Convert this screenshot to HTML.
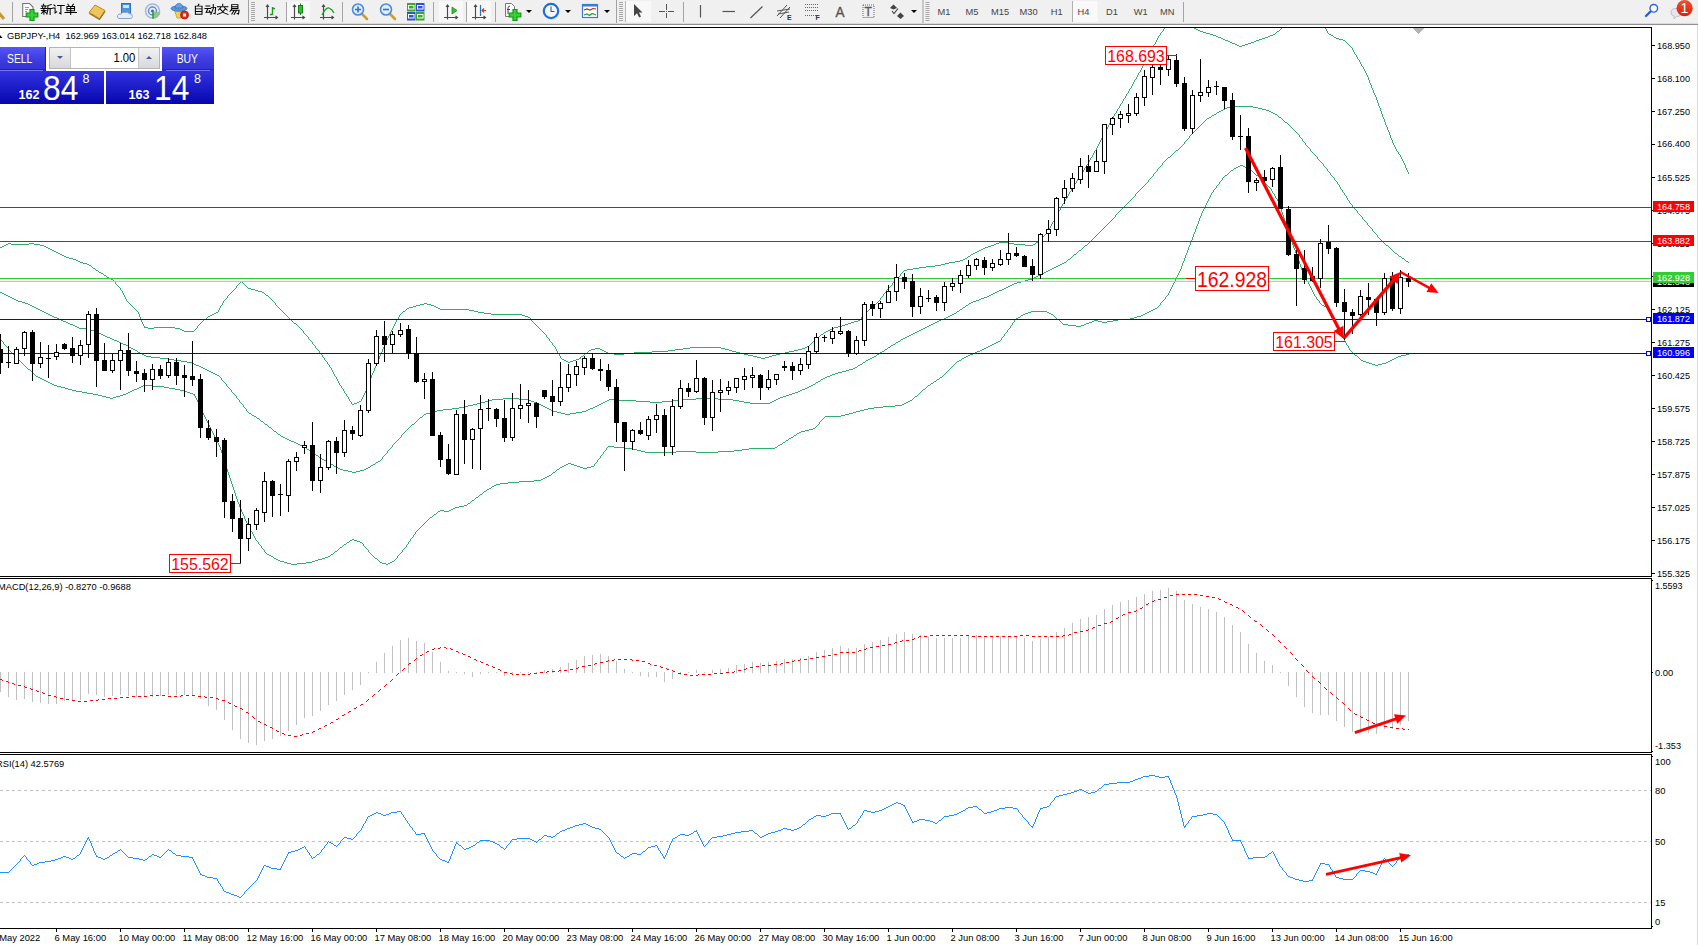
<!DOCTYPE html>
<html><head><meta charset="utf-8"><title>GBPJPY H4</title>
<style>
html,body{margin:0;padding:0;background:#fff}
body{width:1698px;height:945px;position:relative;overflow:hidden;font-family:"Liberation Sans",sans-serif}

#tb{position:absolute;left:0;top:0;width:1698px;height:25px;background:#f0f0f0}
#tb .sh1{position:absolute;left:0;top:23px;width:1698px;height:1px;background:#dadada}
#tb .sh2{position:absolute;left:0;top:24px;width:1698px;height:1px;background:#909090}
#oc{position:absolute;left:0;top:47px;width:214px;height:57px;font-family:"Liberation Sans",sans-serif}
#oc div{position:absolute;box-sizing:border-box}
#oc .bt{top:0;height:24px;background:linear-gradient(#5656f8,#4040e2 45%,#3030d2);color:#fff;font-size:12px;line-height:25px;text-align:center}
#oc .pr{top:24px;height:33px;background:linear-gradient(#3232de,#1c1cc8 50%,#0606ae);color:#fff}
#oc .sm{font-weight:bold;font-size:12.6px;line-height:12px;bottom:3px}
#oc .bg{font-size:34.5px;line-height:34px;bottom:-0.5px;transform-origin:0 50%;transform:scaleX(.92)}
#oc .su{font-size:12.5px;line-height:12px;top:1.5px}

</style></head><body>
<svg width="1698" height="945" viewBox="0 0 1698 945" style="position:absolute;left:0;top:0" font-family="Liberation Sans, sans-serif">
<defs><clipPath id="cm"><rect x="0" y="28" width="1651" height="548"/></clipPath><clipPath id="cd"><rect x="0" y="579" width="1651" height="173"/></clipPath><clipPath id="cr"><rect x="0" y="755" width="1651" height="173"/></clipPath></defs>
<g shape-rendering="crispEdges" fill="#000">
<rect x="0" y="27" width="1652" height="1"/>
<rect x="1651" y="27" width="1" height="550"/>
<rect x="0" y="576" width="1652" height="1"/>
<rect x="0" y="578" width="1652" height="1"/>
<rect x="1651" y="578" width="1" height="175"/>
<rect x="0" y="752" width="1652" height="1"/>
<rect x="0" y="754" width="1652" height="1"/>
<rect x="1651" y="754" width="1" height="175"/>
<rect x="0" y="928" width="1652" height="1"/>
</g>
<rect x="1697" y="25" width="1" height="920" fill="#dcdcdc" shape-rendering="crispEdges"/>
<g clip-path="url(#cm)" shape-rendering="crispEdges">
<path transform="translate(0,0.5)" d="M1164 28h1M1194 28h2M1281 28h1M1325 28h1M1163 29h1M1196 29h2M1280 29h1M1326 29h1M1163 30h1M1198 30h2M1279 30h1M1326 30h1M1162 31h1M1200 31h3M1277 31h2M1327 31h1M1161 32h1M1203 32h3M1276 32h1M1327 32h1M1160 33h1M1206 33h4M1275 33h1M1328 33h1M1160 34h1M1210 34h3M1273 34h2M1329 34h2M1159 35h1M1213 35h3M1270 35h3M1331 35h2M1158 36h1M1216 36h2M1268 36h2M1333 36h1M1158 37h1M1218 37h3M1265 37h3M1334 37h2M1157 38h1M1221 38h2M1262 38h3M1336 38h3M1157 39h1M1223 39h2M1259 39h3M1339 39h4M1156 40h1M1225 40h3M1256 40h3M1343 40h2M1156 41h1M1228 41h2M1254 41h2M1345 41h1M1155 42h1M1230 42h2M1251 42h3M1346 42h1M1155 43h1M1232 43h3M1248 43h3M1347 43h1M1154 44h1M1235 44h2M1245 44h3M1348 44h1M1153 45h1M1237 45h2M1242 45h3M1349 45h1M1153 46h1M1239 46h3M1350 46h1M1152 47h1M1351 47h1M1152 48h1M1352 48h1M1151 49h1M1352 49h1M1151 50h1M1353 50h1M1150 51h1M1353 51h1M1150 52h1M1354 52h1M1149 53h1M1354 53h1M1149 54h1M1355 54h1M1148 55h1M1356 55h1M1148 56h1M1356 56h1M1147 57h1M1357 57h1M1147 58h1M1357 58h1M1146 59h1M1358 59h1M1146 60h1M1359 60h1M1145 61h1M1359 61h1M1145 62h1M1360 62h1M1144 63h1M1360 63h1M1143 64h1M1361 64h1M1143 65h1M1361 65h1M1142 66h1M1362 66h1M1142 67h1M1363 67h1M1141 68h1M1363 68h1M1141 69h1M1364 69h1M1140 70h1M1364 70h1M1140 71h1M1365 71h1M1139 72h1M1365 72h1M1138 73h1M1366 73h1M1138 74h1M1366 74h1M1137 75h1M1367 75h1M1137 76h1M1367 76h1M1136 77h1M1368 77h1M1136 78h1M1368 78h1M1135 79h1M1368 79h1M1134 80h1M1369 80h1M1134 81h1M1369 81h1M1133 82h1M1369 82h1M1133 83h1M1370 83h1M1132 84h1M1370 84h1M1132 85h1M1371 85h1M1131 86h1M1371 86h1M1131 87h1M1371 87h1M1130 88h1M1372 88h1M1129 89h1M1372 89h1M1129 90h1M1373 90h1M1128 91h1M1373 91h1M1128 92h1M1373 92h1M1127 93h1M1374 93h1M1126 94h1M1374 94h1M1126 95h1M1375 95h1M1125 96h1M1375 96h1M1125 97h1M1376 97h1M1124 98h1M1376 98h1M1123 99h1M1376 99h1M1123 100h1M1377 100h1M1122 101h1M1377 101h1M1122 102h1M1377 102h1M1121 103h1M1378 103h1M1120 104h1M1378 104h1M1120 105h1M1378 105h1M1119 106h1M1379 106h1M1119 107h1M1379 107h1M1118 108h1M1380 108h1M1117 109h1M1380 109h1M1117 110h1M1380 110h1M1116 111h1M1381 111h1M1116 112h1M1381 112h1M1115 113h1M1381 113h1M1114 114h1M1382 114h1M1114 115h1M1382 115h1M1113 116h1M1382 116h1M1113 117h1M1383 117h1M1112 118h1M1383 118h1M1111 119h1M1384 119h1M1111 120h1M1384 120h1M1110 121h1M1384 121h1M1110 122h1M1385 122h1M1109 123h1M1385 123h1M1109 124h1M1385 124h1M1108 125h1M1386 125h1M1108 126h1M1386 126h1M1107 127h1M1387 127h1M1107 128h1M1387 128h1M1106 129h1M1387 129h1M1106 130h1M1388 130h1M1105 131h1M1388 131h1M1105 132h1M1389 132h1M1104 133h1M1389 133h1M1103 134h1M1389 134h1M1103 135h1M1390 135h1M1102 136h1M1390 136h1M1102 137h1M1390 137h1M1101 138h1M1391 138h1M1101 139h1M1391 139h1M1100 140h1M1392 140h1M1100 141h1M1392 141h1M1099 142h1M1392 142h1M1099 143h1M1393 143h1M1098 144h1M1393 144h1M1098 145h1M1394 145h1M1097 146h1M1394 146h1M1097 147h1M1395 147h1M1096 148h1M1395 148h1M1096 149h1M1396 149h1M1095 150h1M1396 150h1M1094 151h1M1397 151h1M1094 152h1M1398 152h1M1093 153h1M1398 153h1M1093 154h1M1399 154h1M1092 155h1M1400 155h1M1092 156h1M1400 156h1M1091 157h1M1401 157h1M1090 158h1M1401 158h1M1090 159h1M1402 159h1M1089 160h1M1402 160h1M1089 161h1M1403 161h1M1088 162h1M1403 162h1M1088 163h1M1404 163h1M1087 164h1M1404 164h1M1086 165h1M1405 165h1M1086 166h1M1405 166h1M1085 167h1M1405 167h1M1084 168h1M1406 168h1M1084 169h1M1406 169h1M1083 170h1M1407 170h1M1083 171h1M1407 171h1M1082 172h1M1408 172h1M1081 173h1M1408 173h1M1081 174h1M1080 175h1M1079 176h1M1079 177h1M1078 178h1M1077 179h1M1077 180h1M1076 181h1M1076 182h1M1075 183h1M1074 184h1M1074 185h1M1073 186h1M1072 187h1M1072 188h1M1071 189h1M1071 190h1M1070 191h1M1069 192h1M1069 193h1M1068 194h1M1068 195h1M1067 196h1M1067 197h1M1066 198h1M1065 199h1M1065 200h1M1064 201h1M1064 202h1M1063 203h1M1062 204h1M1062 205h1M1061 206h1M1061 207h1M1060 208h1M1060 209h1M1059 210h1M1058 211h1M1058 212h1M1057 213h1M1057 214h1M1056 215h1M1056 216h1M1055 217h1M1055 218h1M1054 219h1M1054 220h1M1053 221h1M1052 222h1M1052 223h1M1051 224h1M1051 225h1M1050 226h1M1050 227h1M1049 228h1M1049 229h1M1048 230h1M1048 231h1M1047 232h1M1046 233h1M1045 234h1M1044 235h1M1043 236h1M1042 237h1M1041 238h1M1040 239h1M1039 240h1M1038 241h1M999 242h9M1036 242h2M8 243h3M29 243h5M996 243h3M1008 243h6M1035 243h1M6 244h2M11 244h18M34 244h6M994 244h2M1014 244h11M1033 244h2M4 245h2M40 245h4M991 245h3M1025 245h8M2 246h2M44 246h2M988 246h3M0 247h2M46 247h2M985 247h3M48 248h2M983 248h2M50 249h2M981 249h2M52 250h2M979 250h2M54 251h2M977 251h2M56 252h2M975 252h2M58 253h2M973 253h2M60 254h2M971 254h2M62 255h2M970 255h1M64 256h2M968 256h2M66 257h3M967 257h1M69 258h4M965 258h2M73 259h3M963 259h2M76 260h2M960 260h3M78 261h2M955 261h5M80 262h3M949 262h6M83 263h4M945 263h4M87 264h2M941 264h4M89 265h2M935 265h6M91 266h1M926 266h9M92 267h1M919 267h7M93 268h2M913 268h6M95 269h1M907 269h6M96 270h2M904 270h3M98 271h1M903 271h1M99 272h2M902 272h1M101 273h2M901 273h1M103 274h1M900 274h1M104 275h2M900 275h1M106 276h1M899 276h1M107 277h2M898 277h1M109 278h2M897 278h1M111 279h2M896 279h1M113 280h1M895 280h1M114 281h1M241 281h1M894 281h1M115 282h1M240 282h1M242 282h1M893 282h1M115 283h1M239 283h1M243 283h1M892 283h1M116 284h1M238 284h1M244 284h1M892 284h1M117 285h1M237 285h1M245 285h1M891 285h1M118 286h1M236 286h1M246 286h1M890 286h1M119 287h1M236 287h1M247 287h1M889 287h1M120 288h1M235 288h1M248 288h3M888 288h1M120 289h1M234 289h1M251 289h4M887 289h1M121 290h1M233 290h1M255 290h3M886 290h1M122 291h1M232 291h1M258 291h4M886 291h1M122 292h1M231 292h1M262 292h2M885 292h1M123 293h1M230 293h1M264 293h1M884 293h1M123 294h1M229 294h1M265 294h1M883 294h1M124 295h1M228 295h1M266 295h2M883 295h1M124 296h1M227 296h1M268 296h1M882 296h1M125 297h1M227 297h1M269 297h1M881 297h1M125 298h1M226 298h1M270 298h1M880 298h1M126 299h1M225 299h1M271 299h1M880 299h1M126 300h1M224 300h1M272 300h1M879 300h1M127 301h1M223 301h1M273 301h1M878 301h1M128 302h1M223 302h1M274 302h1M877 302h1M129 303h1M222 303h1M275 303h1M424 303h3M876 303h1M130 304h1M222 304h1M275 304h1M420 304h4M427 304h4M875 304h1M131 305h1M221 305h1M276 305h1M416 305h4M431 305h3M874 305h1M132 306h1M220 306h1M277 306h1M413 306h3M434 306h2M873 306h1M133 307h1M220 307h1M278 307h1M409 307h4M436 307h2M872 307h1M134 308h1M219 308h1M279 308h1M407 308h2M438 308h2M870 308h2M135 309h1M219 309h1M280 309h1M406 309h1M440 309h29M869 309h1M136 310h1M218 310h1M281 310h1M405 310h1M469 310h5M868 310h1M137 311h1M218 311h1M282 311h1M403 311h2M474 311h4M867 311h1M138 312h1M216 312h2M283 312h1M402 312h1M478 312h6M866 312h1M138 313h1M214 313h2M284 313h1M401 313h1M484 313h7M865 313h1M139 314h1M212 314h2M285 314h1M400 314h1M491 314h31M864 314h1M139 315h1M210 315h2M286 315h1M399 315h1M522 315h3M863 315h1M139 316h1M208 316h2M287 316h1M399 316h1M525 316h3M862 316h1M140 317h1M207 317h1M288 317h1M398 317h1M528 317h2M861 317h1M140 318h1M206 318h1M289 318h1M398 318h1M530 318h1M861 318h1M141 319h1M204 319h2M290 319h1M397 319h1M531 319h1M860 319h1M141 320h1M203 320h1M291 320h1M396 320h1M531 320h1M858 320h2M141 321h1M202 321h1M292 321h1M396 321h1M532 321h1M854 321h4M142 322h1M201 322h1M293 322h1M395 322h1M533 322h1M851 322h3M142 323h1M200 323h1M294 323h2M395 323h1M534 323h1M848 323h3M143 324h1M199 324h1M296 324h1M394 324h1M535 324h1M845 324h3M143 325h1M198 325h1M297 325h1M394 325h1M536 325h1M842 325h3M144 326h1M197 326h1M298 326h1M393 326h1M537 326h1M838 326h4M144 327h4M154 327h21M197 327h1M299 327h1M393 327h1M538 327h1M834 327h4M148 328h6M175 328h5M196 328h1M300 328h1M392 328h1M539 328h1M832 328h2M180 329h2M195 329h1M301 329h1M392 329h1M540 329h1M830 329h2M182 330h2M194 330h1M302 330h1M391 330h1M541 330h1M828 330h2M184 331h10M303 331h1M391 331h1M542 331h1M826 331h2M303 332h1M390 332h1M543 332h1M824 332h2M304 333h1M390 333h1M544 333h1M823 333h1M305 334h1M389 334h1M545 334h1M821 334h2M306 335h1M389 335h1M546 335h1M820 335h1M307 336h1M388 336h1M546 336h1M819 336h1M308 337h1M388 337h1M547 337h1M817 337h2M308 338h1M387 338h1M548 338h1M816 338h1M309 339h1M387 339h1M549 339h1M815 339h1M310 340h1M386 340h1M549 340h1M814 340h1M311 341h1M386 341h1M550 341h1M813 341h1M312 342h1M386 342h1M551 342h1M812 342h1M312 343h1M385 343h1M552 343h1M811 343h1M313 344h1M385 344h1M552 344h1M810 344h1M314 345h1M384 345h1M553 345h1M809 345h1M315 346h1M384 346h1M554 346h1M807 346h2M315 347h1M383 347h1M555 347h1M690 347h31M805 347h2M316 348h1M383 348h1M555 348h1M595 348h5M683 348h7M721 348h4M802 348h3M317 349h1M382 349h1M556 349h1M591 349h4M600 349h2M675 349h8M725 349h4M798 349h4M318 350h1M382 350h1M556 350h1M589 350h2M602 350h2M668 350h7M729 350h3M794 350h4M319 351h1M382 351h1M557 351h1M588 351h1M604 351h2M652 351h16M732 351h4M789 351h5M319 352h1M381 352h1M557 352h1M587 352h1M606 352h2M634 352h18M736 352h4M785 352h4M320 353h1M381 353h1M558 353h1M585 353h2M608 353h6M624 353h10M740 353h4M780 353h5M321 354h1M380 354h1M559 354h1M584 354h1M614 354h10M744 354h4M776 354h4M322 355h1M380 355h1M559 355h1M583 355h1M748 355h5M772 355h4M322 356h1M379 356h1M560 356h1M581 356h2M753 356h4M769 356h3M323 357h1M379 357h1M560 357h1M580 357h1M757 357h4M765 357h4M324 358h1M379 358h1M561 358h1M579 358h2M761 358h4M324 359h1M378 359h1M562 359h2M576 359h3M325 360h1M378 360h1M564 360h2M573 360h3M326 361h1M377 361h1M566 361h2M570 361h3M327 362h1M377 362h1M568 362h2M327 363h1M376 363h1M328 364h1M376 364h1M329 365h1M376 365h1M329 366h1M375 366h1M330 367h1M375 367h1M331 368h1M374 368h1M331 369h1M374 369h1M332 370h1M374 370h1M332 371h1M373 371h1M333 372h1M373 372h1M333 373h1M372 373h1M334 374h1M372 374h1M334 375h1M371 375h1M335 376h1M371 376h1M336 377h1M371 377h1M336 378h1M370 378h1M337 379h1M370 379h1M337 380h1M370 380h1M338 381h1M369 381h1M338 382h1M369 382h1M339 383h1M368 383h1M339 384h1M368 384h1M340 385h1M368 385h1M341 386h1M367 386h1M341 387h1M367 387h1M342 388h1M367 388h1M343 389h1M366 389h1M343 390h1M366 390h1M344 391h1M365 391h1M344 392h1M365 392h1M345 393h1M364 393h1M346 394h1M364 394h1M346 395h1M363 395h1M347 396h1M363 396h1M348 397h1M362 397h1M348 398h1M362 398h1M349 399h1M361 399h1M349 400h1M361 400h1M350 401h1M359 401h2M351 402h1M357 402h2M351 403h1M354 403h3M352 404h2" fill="none" stroke="#2eb06c" stroke-width="1"/>
<path transform="translate(0,0.5)" d="M1233 106h20M1227 107h6M1253 107h5M1225 108h2M1258 108h4M1223 109h2M1262 109h4M1221 110h2M1266 110h3M1219 111h2M1269 111h2M1217 112h2M1271 112h2M1216 113h1M1273 113h2M1214 114h2M1275 114h2M1212 115h2M1277 115h1M1211 116h1M1278 116h1M1209 117h2M1279 117h2M1207 118h2M1281 118h1M1206 119h1M1282 119h1M1205 120h1M1283 120h1M1204 121h1M1284 121h1M1203 122h1M1285 122h2M1202 123h1M1287 123h1M1201 124h1M1288 124h1M1200 125h1M1289 125h1M1199 126h1M1290 126h1M1198 127h1M1291 127h1M1197 128h1M1292 128h1M1196 129h1M1293 129h1M1195 130h1M1294 130h1M1194 131h1M1295 131h1M1193 132h1M1296 132h1M1192 133h1M1297 133h1M1191 134h1M1298 134h1M1190 135h1M1299 135h1M1189 136h1M1299 136h1M1189 137h1M1300 137h1M1188 138h1M1301 138h1M1187 139h1M1302 139h1M1186 140h1M1302 140h1M1185 141h1M1303 141h1M1184 142h1M1304 142h1M1184 143h1M1305 143h1M1183 144h1M1305 144h1M1182 145h1M1306 145h1M1181 146h1M1307 146h1M1180 147h1M1308 147h1M1179 148h1M1309 148h1M1178 149h1M1310 149h1M1176 150h2M1310 150h1M1175 151h1M1311 151h1M1174 152h1M1312 152h1M1173 153h1M1313 153h1M1172 154h1M1314 154h1M1171 155h1M1315 155h1M1170 156h1M1316 156h1M1168 157h2M1317 157h1M1167 158h1M1317 158h1M1166 159h1M1318 159h1M1165 160h1M1319 160h1M1164 161h1M1320 161h1M1163 162h1M1321 162h1M1162 163h1M1322 163h1M1162 164h1M1323 164h1M1161 165h1M1323 165h1M1160 166h1M1324 166h1M1159 167h1M1325 167h1M1158 168h1M1326 168h1M1157 169h1M1327 169h1M1157 170h1M1327 170h1M1156 171h1M1328 171h1M1155 172h1M1329 172h1M1154 173h1M1330 173h1M1153 174h1M1330 174h1M1153 175h1M1331 175h1M1152 176h1M1332 176h1M1151 177h1M1333 177h1M1150 178h1M1334 178h1M1149 179h1M1334 179h1M1148 180h1M1335 180h1M1148 181h1M1336 181h1M1147 182h1M1337 182h1M1146 183h1M1337 183h1M1145 184h1M1338 184h1M1144 185h1M1339 185h1M1143 186h1M1339 186h1M1142 187h1M1340 187h1M1141 188h1M1340 188h1M1140 189h1M1341 189h1M1139 190h1M1342 190h1M1138 191h1M1342 191h1M1137 192h1M1343 192h1M1136 193h1M1344 193h1M1135 194h1M1344 194h1M1135 195h1M1345 195h1M1134 196h1M1346 196h1M1133 197h1M1346 197h1M1132 198h1M1347 198h1M1131 199h1M1347 199h1M1130 200h1M1348 200h1M1129 201h1M1349 201h1M1128 202h1M1349 202h1M1127 203h1M1350 203h1M1126 204h1M1351 204h1M1125 205h1M1352 205h1M1124 206h1M1352 206h1M1123 207h1M1353 207h1M1122 208h1M1354 208h1M1121 209h1M1355 209h1M1120 210h1M1356 210h1M1119 211h1M1357 211h1M1118 212h1M1357 212h1M1117 213h1M1358 213h1M1116 214h1M1359 214h1M1115 215h1M1360 215h1M1115 216h1M1361 216h1M1114 217h1M1362 217h1M1113 218h1M1362 218h1M1112 219h1M1363 219h1M1111 220h1M1364 220h1M1110 221h1M1365 221h1M1109 222h1M1366 222h1M1108 223h1M1367 223h1M1107 224h1M1367 224h1M1106 225h1M1368 225h1M1105 226h1M1369 226h1M1104 227h1M1370 227h1M1103 228h1M1371 228h1M1102 229h1M1372 229h1M1101 230h1M1372 230h1M1100 231h1M1373 231h1M1099 232h1M1374 232h1M1098 233h1M1375 233h1M1097 234h1M1376 234h1M1096 235h1M1377 235h1M1095 236h1M1377 236h1M1094 237h1M1378 237h1M1093 238h1M1379 238h1M1092 239h1M1380 239h1M1091 240h1M1381 240h1M1090 241h1M1382 241h1M1089 242h1M1383 242h1M1088 243h1M1384 243h1M1087 244h1M1385 244h1M1085 245h2M1386 245h2M1084 246h1M1388 246h1M1083 247h1M1389 247h1M1082 248h1M1390 248h1M1081 249h1M1391 249h1M1079 250h2M1392 250h1M1078 251h1M1393 251h1M1077 252h1M1394 252h1M1076 253h1M1395 253h2M1074 254h2M1397 254h1M1073 255h1M1398 255h1M1072 256h1M1399 256h2M1071 257h1M1401 257h1M1070 258h1M1402 258h2M1068 259h2M1404 259h1M1067 260h1M1405 260h1M1066 261h1M1406 261h2M1064 262h2M1408 262h1M1062 263h2M1060 264h2M1058 265h2M1056 266h2M1054 267h2M1052 268h2M1050 269h2M1048 270h2M1046 271h2M1044 272h2M1042 273h2M1040 274h2M1038 275h2M1036 276h2M1034 277h2M1032 278h2M1028 279h4M1025 280h3M1021 281h4M1017 282h4M1014 283h3M1012 284h2M1010 285h2M1008 286h2M1006 287h2M1004 288h2M1002 289h2M999 290h3M997 291h2M0 292h2M995 292h2M2 293h2M993 293h2M4 294h2M991 294h2M6 295h2M989 295h2M8 296h2M987 296h2M10 297h2M984 297h3M12 298h2M981 298h3M14 299h2M979 299h2M16 300h2M976 300h3M18 301h4M973 301h3M22 302h3M971 302h2M25 303h3M969 303h2M28 304h2M968 304h1M30 305h2M966 305h2M32 306h2M965 306h1M34 307h2M963 307h2M36 308h2M962 308h1M38 309h2M960 309h2M40 310h2M959 310h1M42 311h2M957 311h2M44 312h2M956 312h1M46 313h2M954 313h2M48 314h2M952 314h2M50 315h2M950 315h2M52 316h2M948 316h2M54 317h3M946 317h2M57 318h2M944 318h2M59 319h2M941 319h3M61 320h2M939 320h2M63 321h3M937 321h2M66 322h2M935 322h2M68 323h2M933 323h2M70 324h3M931 324h2M73 325h2M929 325h2M75 326h2M927 326h2M77 327h2M925 327h2M79 328h10M923 328h2M89 329h2M921 329h2M91 330h3M919 330h2M94 331h2M917 331h2M96 332h2M915 332h2M98 333h3M913 333h2M101 334h2M911 334h2M103 335h2M909 335h2M105 336h2M907 336h2M107 337h3M905 337h2M110 338h2M903 338h2M112 339h2M901 339h2M114 340h3M900 340h1M117 341h2M898 341h2M119 342h2M896 342h2M121 343h2M895 343h1M123 344h3M893 344h2M126 345h2M891 345h2M128 346h1M890 346h1M129 347h2M888 347h2M131 348h2M887 348h1M133 349h2M885 349h2M135 350h2M884 350h1M137 351h1M882 351h2M138 352h2M880 352h2M140 353h2M879 353h1M142 354h2M877 354h2M144 355h2M876 355h1M146 356h5M874 356h2M151 357h9M872 357h2M160 358h8M870 358h2M168 359h6M868 359h2M174 360h7M866 360h2M181 361h6M865 361h1M187 362h5M863 362h2M192 363h2M862 363h1M194 364h2M860 364h2M196 365h3M858 365h2M199 366h2M857 366h1M201 367h2M855 367h2M203 368h2M853 368h2M205 369h2M849 369h4M207 370h2M846 370h3M209 371h2M842 371h4M211 372h2M838 372h4M213 373h2M835 373h3M215 374h2M832 374h3M217 375h2M830 375h2M219 376h1M827 376h3M220 377h1M825 377h2M221 378h1M823 378h2M221 379h1M821 379h2M222 380h1M820 380h1M223 381h1M818 381h2M224 382h1M816 382h2M225 383h1M815 383h1M226 384h1M813 384h2M226 385h1M811 385h2M227 386h1M809 386h2M228 387h1M807 387h2M229 388h1M805 388h2M230 389h1M802 389h3M231 390h1M800 390h2M231 391h1M798 391h2M232 392h1M795 392h3M233 393h1M792 393h3M234 394h1M789 394h3M235 395h1M786 395h3M236 396h1M783 396h3M236 397h1M780 397h3M237 398h1M503 398h16M696 398h22M778 398h2M238 399h1M492 399h11M519 399h9M609 399h10M682 399h14M718 399h15M776 399h2M239 400h1M488 400h4M528 400h3M607 400h2M619 400h17M672 400h10M733 400h6M774 400h2M239 401h1M485 401h3M531 401h3M605 401h2M636 401h14M662 401h10M739 401h5M772 401h2M240 402h1M481 402h4M534 402h2M603 402h2M650 402h12M744 402h6M770 402h2M241 403h1M477 403h4M536 403h3M601 403h2M750 403h20M242 404h1M473 404h4M539 404h2M599 404h2M243 405h1M468 405h5M541 405h2M597 405h2M243 406h1M464 406h4M543 406h2M595 406h2M244 407h1M459 407h5M545 407h2M593 407h2M245 408h1M452 408h7M547 408h2M590 408h3M246 409h1M443 409h9M549 409h2M588 409h2M246 410h1M437 410h6M551 410h2M586 410h2M247 411h1M433 411h4M553 411h4M582 411h4M248 412h1M430 412h3M557 412h4M576 412h6M249 413h2M426 413h4M561 413h4M570 413h6M251 414h1M424 414h2M565 414h5M252 415h2M423 415h1M254 416h2M422 416h1M256 417h1M420 417h2M257 418h2M419 418h1M259 419h1M418 419h1M260 420h1M417 420h1M261 421h2M416 421h1M263 422h1M415 422h1M264 423h1M414 423h1M265 424h2M412 424h2M267 425h1M411 425h1M268 426h1M410 426h1M269 427h2M409 427h1M271 428h1M408 428h1M272 429h1M407 429h1M273 430h1M406 430h1M274 431h2M405 431h1M276 432h1M404 432h1M277 433h1M403 433h1M278 434h2M402 434h1M280 435h1M401 435h1M281 436h2M401 436h1M283 437h2M400 437h1M285 438h2M399 438h1M287 439h2M398 439h1M289 440h2M397 440h1M291 441h3M396 441h1M294 442h2M395 442h1M296 443h2M394 443h1M298 444h2M393 444h1M300 445h2M392 445h1M302 446h2M392 446h1M304 447h2M391 447h1M306 448h1M390 448h1M307 449h2M389 449h1M309 450h1M388 450h1M310 451h2M387 451h1M312 452h1M387 452h1M313 453h2M386 453h1M315 454h1M385 454h1M316 455h2M384 455h1M318 456h1M383 456h1M319 457h2M382 457h1M321 458h1M382 458h1M322 459h2M381 459h1M324 460h2M380 460h1M326 461h2M378 461h2M328 462h1M376 462h2M329 463h2M375 463h1M331 464h2M373 464h2M333 465h1M371 465h2M334 466h2M370 466h1M336 467h2M368 467h2M338 468h2M366 468h2M340 469h3M364 469h2M343 470h5M360 470h4M348 471h4M356 471h4M352 472h4" fill="none" stroke="#2eb06c" stroke-width="1"/>
<path transform="translate(0,0.5)" d="M1240 165h3M1238 166h2M1243 166h2M1236 167h2M1245 167h2M1234 168h2M1247 168h2M1233 169h1M1249 169h1M1231 170h2M1250 170h2M1230 171h1M1252 171h1M1229 172h1M1253 172h1M1228 173h1M1254 173h1M1227 174h1M1255 174h1M1225 175h2M1256 175h2M1224 176h1M1258 176h1M1223 177h1M1259 177h1M1222 178h1M1260 178h1M1222 179h1M1261 179h1M1221 180h1M1262 180h1M1220 181h1M1263 181h1M1219 182h1M1264 182h1M1219 183h1M1265 183h1M1218 184h1M1266 184h1M1217 185h1M1267 185h1M1216 186h1M1268 186h1M1216 187h1M1269 187h1M1215 188h1M1270 188h1M1214 189h1M1271 189h1M1213 190h1M1271 190h1M1213 191h1M1272 191h1M1212 192h1M1272 192h1M1211 193h1M1273 193h1M1211 194h1M1274 194h1M1210 195h1M1274 195h1M1210 196h1M1275 196h1M1209 197h1M1275 197h1M1209 198h1M1276 198h1M1208 199h1M1277 199h1M1208 200h1M1277 200h1M1207 201h1M1278 201h1M1207 202h1M1278 202h1M1206 203h1M1279 203h1M1206 204h1M1279 204h1M1205 205h1M1280 205h1M1205 206h1M1280 206h1M1204 207h1M1280 207h1M1204 208h1M1281 208h1M1203 209h1M1281 209h1M1203 210h1M1281 210h1M1202 211h1M1281 211h1M1202 212h1M1282 212h1M1201 213h1M1282 213h1M1201 214h1M1282 214h1M1201 215h1M1283 215h1M1200 216h1M1283 216h1M1200 217h1M1283 217h1M1199 218h1M1284 218h1M1199 219h1M1284 219h1M1199 220h1M1284 220h1M1198 221h1M1285 221h1M1198 222h1M1285 222h1M1198 223h1M1285 223h1M1197 224h1M1286 224h1M1197 225h1M1286 225h1M1196 226h1M1286 226h1M1196 227h1M1286 227h1M1196 228h1M1287 228h1M1195 229h1M1287 229h1M1195 230h1M1287 230h1M1195 231h1M1288 231h1M1194 232h1M1288 232h1M1194 233h1M1288 233h1M1193 234h1M1289 234h1M1193 235h1M1289 235h1M1193 236h1M1289 236h1M1192 237h1M1290 237h1M1192 238h1M1290 238h1M1192 239h1M1291 239h1M1191 240h1M1291 240h1M1191 241h1M1291 241h1M1190 242h1M1292 242h1M1190 243h1M1292 243h1M1190 244h1M1292 244h1M1189 245h1M1293 245h1M1189 246h1M1293 246h1M1188 247h1M1293 247h1M1188 248h1M1294 248h1M1188 249h1M1294 249h1M1187 250h1M1295 250h1M1187 251h1M1295 251h1M1187 252h1M1295 252h1M1186 253h1M1296 253h1M1186 254h1M1296 254h1M1185 255h1M1296 255h1M1185 256h1M1297 256h1M1185 257h1M1297 257h1M1184 258h1M1297 258h1M1184 259h1M1298 259h1M1184 260h1M1298 260h1M1183 261h1M1299 261h1M1183 262h1M1299 262h1M1182 263h1M1299 263h1M1182 264h1M1300 264h1M1182 265h1M1300 265h1M1181 266h1M1300 266h1M1181 267h1M1301 267h1M1181 268h1M1301 268h1M1180 269h1M1301 269h1M1180 270h1M1302 270h1M1179 271h1M1302 271h1M1179 272h1M1303 272h1M1178 273h1M1303 273h1M1178 274h1M1303 274h1M1177 275h1M1304 275h1M1177 276h1M1304 276h1M1176 277h1M1305 277h1M1176 278h1M1305 278h1M1175 279h1M1306 279h1M1175 280h1M1306 280h1M1174 281h1M1307 281h1M1174 282h1M1308 282h1M1173 283h1M1308 283h1M1173 284h1M1309 284h1M1172 285h1M1309 285h1M1172 286h1M1310 286h1M1171 287h1M1310 287h1M1171 288h1M1311 288h1M1170 289h1M1311 289h1M1170 290h1M1312 290h1M1169 291h1M1312 291h1M1169 292h1M1313 292h1M1168 293h1M1313 293h1M1168 294h1M1314 294h1M1167 295h1M1314 295h1M1166 296h1M1315 296h1M1165 297h1M1316 297h1M1165 298h1M1316 298h1M1164 299h1M1317 299h1M1163 300h1M1318 300h1M1162 301h1M1319 301h1M1161 302h1M1319 302h1M1160 303h1M1320 303h1M1160 304h1M1321 304h1M1159 305h1M1322 305h2M1158 306h1M1324 306h2M1157 307h1M1326 307h2M1155 308h2M1328 308h1M1153 309h2M1328 309h1M1151 310h2M1329 310h1M1031 311h16M1149 311h2M1329 311h1M1028 312h3M1047 312h2M1147 312h2M1330 312h1M1025 313h3M1049 313h2M1145 313h2M1330 313h1M1023 314h2M1051 314h2M1143 314h2M1331 314h1M1021 315h2M1053 315h1M1141 315h2M1331 315h1M1020 316h1M1054 316h1M1137 316h4M1332 316h1M1018 317h2M1055 317h1M1134 317h3M1332 317h1M1016 318h2M1056 318h1M1130 318h4M1333 318h1M1015 319h1M1057 319h2M1118 319h12M1333 319h1M1014 320h1M1059 320h1M1094 320h4M1113 320h5M1334 320h1M1014 321h1M1060 321h1M1092 321h2M1098 321h4M1107 321h6M1334 321h1M1013 322h1M1061 322h1M1089 322h3M1102 322h5M1335 322h1M1012 323h1M1062 323h1M1086 323h3M1335 323h1M1012 324h1M1063 324h5M1084 324h2M1336 324h1M1011 325h1M1068 325h8M1081 325h3M1336 325h1M1010 326h1M1076 326h5M1337 326h1M1010 327h1M1337 327h1M1009 328h1M1338 328h1M1008 329h1M1338 329h1M1007 330h1M1339 330h1M1007 331h1M1339 331h1M1006 332h1M1340 332h1M1005 333h1M1340 333h1M1004 334h1M1341 334h1M1004 335h1M1341 335h1M1003 336h1M1342 336h1M1002 337h1M1342 337h1M1001 338h1M1343 338h1M0 339h1M1001 339h1M1344 339h1M1 340h1M1000 340h1M1344 340h1M2 341h1M998 341h2M1345 341h1M3 342h1M996 342h2M1345 342h1M3 343h1M994 343h2M1346 343h1M4 344h1M992 344h2M1346 344h1M5 345h1M990 345h2M1347 345h1M6 346h1M988 346h2M1348 346h1M7 347h1M986 347h2M1348 347h1M8 348h1M984 348h2M1349 348h1M8 349h1M982 349h2M1349 349h1M9 350h1M980 350h2M1350 350h1M10 351h1M977 351h3M1351 351h1M11 352h1M975 352h2M1352 352h1M12 353h1M973 353h2M1353 353h1M13 354h1M970 354h3M1354 354h1M1406 354h3M14 355h1M968 355h2M1355 355h2M1401 355h5M15 356h1M966 356h2M1357 356h1M1398 356h3M16 357h1M964 357h2M1358 357h1M1396 357h2M17 358h1M962 358h2M1359 358h1M1394 358h2M18 359h1M961 359h1M1360 359h1M1392 359h2M19 360h1M959 360h2M1361 360h2M1390 360h2M20 361h1M957 361h2M1363 361h3M1388 361h2M21 362h1M956 362h1M1366 362h3M1386 362h2M22 363h1M955 363h1M1369 363h3M1382 363h4M23 364h1M954 364h1M1372 364h3M1378 364h4M24 365h1M953 365h1M1375 365h3M25 366h1M952 366h1M26 367h1M951 367h1M27 368h1M950 368h1M28 369h2M949 369h1M30 370h1M948 370h1M31 371h1M947 371h1M32 372h1M946 372h1M33 373h1M945 373h1M34 374h1M944 374h1M35 375h1M943 375h1M36 376h2M942 376h1M38 377h2M940 377h2M40 378h2M939 378h1M42 379h2M937 379h2M44 380h2M936 380h1M46 381h2M934 381h2M48 382h2M933 382h1M50 383h2M931 383h2M52 384h2M930 384h1M54 385h3M143 385h10M928 385h2M57 386h4M141 386h2M153 386h11M927 386h1M61 387h4M139 387h2M164 387h5M926 387h1M65 388h3M137 388h2M169 388h6M925 388h1M68 389h4M134 389h3M175 389h5M923 389h2M72 390h4M132 390h2M180 390h4M922 390h1M76 391h6M130 391h2M184 391h3M921 391h1M82 392h5M128 392h2M187 392h3M920 392h1M87 393h6M126 393h2M190 393h3M919 393h1M93 394h5M123 394h3M193 394h2M918 394h1M98 395h4M120 395h3M194 395h1M917 395h1M102 396h4M116 396h4M195 396h1M915 396h2M106 397h4M113 397h3M195 397h1M914 397h1M110 398h3M196 398h1M913 398h1M196 399h1M912 399h1M197 400h1M910 400h2M197 401h1M908 401h2M198 402h1M906 402h2M198 403h1M904 403h2M199 404h1M902 404h2M199 405h1M895 405h7M199 406h1M883 406h12M200 407h1M874 407h9M200 408h1M868 408h6M201 409h1M864 409h4M201 410h1M860 410h4M202 411h1M856 411h4M202 412h1M853 412h3M203 413h1M849 413h4M203 414h1M845 414h4M204 415h1M841 415h4M204 416h1M825 416h16M205 417h1M824 417h1M205 418h1M823 418h1M206 419h1M822 419h1M206 420h1M821 420h1M207 421h1M820 421h1M207 422h1M819 422h1M208 423h1M819 423h1M208 424h1M818 424h1M209 425h1M817 425h1M209 426h1M816 426h1M210 427h1M815 427h1M210 428h1M813 428h2M211 429h1M809 429h4M211 430h1M805 430h4M212 431h1M801 431h4M212 432h1M799 432h2M213 433h1M797 433h2M213 434h1M796 434h1M214 435h1M794 435h2M214 436h1M793 436h1M215 437h1M791 437h2M215 438h1M789 438h2M216 439h1M788 439h1M216 440h1M786 440h2M217 441h1M785 441h1M217 442h1M783 442h2M218 443h1M782 443h1M218 444h1M780 444h2M219 445h1M778 445h2M219 446h1M608 446h6M777 446h1M220 447h1M607 447h1M614 447h11M775 447h2M220 448h1M606 448h1M625 448h8M749 448h26M220 449h1M606 449h1M633 449h4M742 449h7M221 450h1M605 450h1M637 450h4M734 450h8M221 451h1M604 451h1M641 451h4M676 451h20M718 451h16M221 452h1M603 452h1M645 452h31M696 452h22M222 453h1M603 453h1M222 454h1M602 454h1M222 455h1M601 455h1M222 456h1M600 456h1M223 457h1M600 457h1M223 458h1M599 458h1M223 459h1M598 459h1M224 460h1M597 460h1M224 461h1M597 461h1M224 462h1M596 462h1M225 463h1M568 463h3M595 463h1M225 464h1M566 464h2M571 464h3M594 464h1M225 465h1M564 465h2M574 465h3M594 465h1M226 466h1M562 466h2M577 466h3M591 466h3M226 467h1M560 467h2M580 467h3M587 467h4M226 468h1M559 468h1M583 468h4M227 469h1M557 469h2M227 470h1M556 470h1M227 471h1M555 471h1M228 472h1M553 472h2M228 473h1M552 473h1M228 474h1M551 474h1M229 475h1M549 475h2M229 476h1M547 476h2M229 477h1M545 477h2M230 478h1M543 478h2M230 479h1M541 479h2M230 480h1M534 480h7M231 481h1M519 481h15M231 482h1M508 482h11M231 483h1M500 483h8M232 484h1M496 484h4M232 485h1M494 485h2M232 486h1M492 486h2M233 487h1M491 487h1M233 488h1M489 488h2M233 489h1M487 489h2M234 490h1M486 490h1M234 491h1M484 491h2M234 492h1M483 492h1M235 493h1M482 493h1M235 494h1M480 494h2M235 495h1M479 495h1M236 496h1M478 496h1M236 497h1M476 497h2M236 498h1M475 498h1M237 499h1M474 499h1M237 500h1M472 500h2M237 501h1M471 501h1M238 502h1M470 502h1M238 503h1M468 503h2M239 504h1M467 504h1M239 505h1M464 505h3M239 506h1M459 506h5M240 507h1M455 507h4M240 508h1M453 508h2M241 509h1M451 509h2M241 510h1M440 510h4M449 510h2M241 511h1M438 511h2M444 511h5M242 512h1M437 512h1M242 513h1M436 513h1M243 514h1M434 514h2M243 515h1M433 515h1M244 516h1M432 516h1M244 517h1M430 517h2M244 518h1M429 518h1M245 519h1M428 519h1M245 520h1M427 520h1M246 521h1M426 521h1M246 522h1M425 522h1M247 523h1M424 523h1M247 524h1M423 524h1M248 525h1M422 525h1M248 526h1M421 526h1M249 527h1M420 527h1M249 528h1M419 528h1M250 529h1M418 529h1M250 530h1M417 530h1M251 531h1M416 531h1M252 532h1M415 532h1M252 533h1M415 533h1M253 534h1M414 534h1M253 535h1M413 535h1M254 536h1M413 536h1M254 537h1M412 537h1M255 538h1M411 538h1M255 539h1M352 539h2M410 539h1M256 540h1M350 540h2M354 540h3M410 540h1M257 541h1M349 541h1M357 541h3M409 541h1M258 542h1M347 542h2M360 542h2M408 542h1M258 543h1M346 543h1M362 543h1M408 543h1M259 544h1M344 544h2M363 544h1M407 544h1M260 545h1M343 545h1M363 545h1M406 545h1M261 546h1M342 546h1M364 546h1M406 546h1M261 547h1M340 547h2M365 547h1M405 547h1M262 548h1M339 548h1M366 548h1M404 548h1M263 549h1M338 549h1M367 549h1M403 549h1M264 550h1M337 550h1M368 550h1M402 550h1M264 551h1M335 551h2M368 551h1M402 551h1M265 552h1M334 552h1M369 552h1M401 552h1M266 553h1M333 553h1M370 553h1M400 553h1M267 554h2M331 554h2M371 554h1M399 554h1M269 555h2M330 555h1M372 555h1M398 555h1M271 556h2M328 556h2M373 556h1M397 556h1M273 557h1M325 557h3M374 557h1M397 557h1M274 558h2M322 558h3M375 558h2M396 558h1M276 559h2M318 559h4M377 559h1M395 559h1M278 560h2M315 560h3M378 560h1M394 560h1M280 561h4M312 561h3M379 561h1M392 561h2M284 562h3M306 562h6M380 562h2M390 562h2M287 563h4M297 563h9M382 563h4M388 563h2M291 564h6M386 564h2" fill="none" stroke="#2eb06c" stroke-width="1"/>
<rect x="0" y="281" width="1651" height="1" fill="#c0c0c0"/>
<rect x="0" y="207" width="1651" height="1" fill="#ff0000"/>
<rect x="0" y="241" width="1651" height="1" fill="#ff0000"/>
<rect x="0" y="278" width="1651" height="1" fill="#32cd32"/>
<rect x="0" y="319" width="1651" height="1" fill="#0000ff"/>
<rect x="0" y="353" width="1651" height="1" fill="#0000ff"/>
<polygon points="1412,28 1424,28 1418,34" fill="#b4b4b4"/>
<g>
<rect x="0" y="334" width="1" height="40" fill="#000"/>
<rect x="-2" y="349" width="5" height="14" fill="#000"/>
<rect x="8" y="346" width="1" height="22" fill="#000"/>
<rect x="6" y="362" width="5" height="1" fill="#000"/>
<rect x="16" y="347" width="1" height="17" fill="#000"/>
<rect x="14" y="349" width="5" height="15" fill="#000"/>
<rect x="15" y="350" width="3" height="13" fill="#fff"/>
<rect x="24" y="331" width="1" height="25" fill="#000"/>
<rect x="22" y="332" width="5" height="17" fill="#000"/>
<rect x="23" y="333" width="3" height="15" fill="#fff"/>
<rect x="32" y="330" width="1" height="51" fill="#000"/>
<rect x="30" y="332" width="5" height="32" fill="#000"/>
<rect x="40" y="342" width="1" height="26" fill="#000"/>
<rect x="38" y="357" width="5" height="7" fill="#000"/>
<rect x="39" y="358" width="3" height="5" fill="#fff"/>
<rect x="48" y="345" width="1" height="33" fill="#000"/>
<rect x="46" y="358" width="5" height="1" fill="#000"/>
<rect x="56" y="344" width="1" height="16" fill="#000"/>
<rect x="54" y="352" width="5" height="5" fill="#000"/>
<rect x="55" y="353" width="3" height="3" fill="#fff"/>
<rect x="64" y="343" width="1" height="7" fill="#000"/>
<rect x="62" y="344" width="5" height="5" fill="#000"/>
<rect x="72" y="337" width="1" height="26" fill="#000"/>
<rect x="70" y="348" width="5" height="8" fill="#000"/>
<rect x="80" y="340" width="1" height="25" fill="#000"/>
<rect x="78" y="345" width="5" height="11" fill="#000"/>
<rect x="79" y="346" width="3" height="9" fill="#fff"/>
<rect x="88" y="311" width="1" height="47" fill="#000"/>
<rect x="86" y="314" width="5" height="31" fill="#000"/>
<rect x="87" y="315" width="3" height="29" fill="#fff"/>
<rect x="96" y="308" width="1" height="79" fill="#000"/>
<rect x="94" y="314" width="5" height="47" fill="#000"/>
<rect x="104" y="343" width="1" height="28" fill="#000"/>
<rect x="102" y="360" width="5" height="11" fill="#000"/>
<rect x="112" y="354" width="1" height="19" fill="#000"/>
<rect x="110" y="360" width="5" height="11" fill="#000"/>
<rect x="111" y="361" width="3" height="9" fill="#fff"/>
<rect x="120" y="343" width="1" height="47" fill="#000"/>
<rect x="118" y="350" width="5" height="11" fill="#000"/>
<rect x="119" y="351" width="3" height="9" fill="#fff"/>
<rect x="128" y="333" width="1" height="43" fill="#000"/>
<rect x="126" y="350" width="5" height="21" fill="#000"/>
<rect x="136" y="361" width="1" height="21" fill="#000"/>
<rect x="134" y="371" width="5" height="3" fill="#000"/>
<rect x="144" y="369" width="1" height="23" fill="#000"/>
<rect x="142" y="373" width="5" height="7" fill="#000"/>
<rect x="152" y="364" width="1" height="26" fill="#000"/>
<rect x="150" y="369" width="5" height="11" fill="#000"/>
<rect x="151" y="370" width="3" height="9" fill="#fff"/>
<rect x="160" y="365" width="1" height="14" fill="#000"/>
<rect x="158" y="369" width="5" height="7" fill="#000"/>
<rect x="168" y="358" width="1" height="20" fill="#000"/>
<rect x="166" y="362" width="5" height="14" fill="#000"/>
<rect x="167" y="363" width="3" height="12" fill="#fff"/>
<rect x="176" y="358" width="1" height="27" fill="#000"/>
<rect x="174" y="362" width="5" height="14" fill="#000"/>
<rect x="184" y="365" width="1" height="32" fill="#000"/>
<rect x="182" y="375" width="5" height="3" fill="#000"/>
<rect x="192" y="341" width="1" height="45" fill="#000"/>
<rect x="190" y="376" width="5" height="4" fill="#000"/>
<rect x="200" y="374" width="1" height="64" fill="#000"/>
<rect x="198" y="379" width="5" height="49" fill="#000"/>
<rect x="208" y="420" width="1" height="20" fill="#000"/>
<rect x="206" y="428" width="5" height="10" fill="#000"/>
<rect x="216" y="429" width="1" height="28" fill="#000"/>
<rect x="214" y="437" width="5" height="5" fill="#000"/>
<rect x="224" y="438" width="1" height="80" fill="#000"/>
<rect x="222" y="440" width="5" height="62" fill="#000"/>
<rect x="232" y="494" width="1" height="38" fill="#000"/>
<rect x="230" y="501" width="5" height="18" fill="#000"/>
<rect x="240" y="500" width="1" height="64" fill="#000"/>
<rect x="238" y="518" width="5" height="21" fill="#000"/>
<rect x="248" y="518" width="1" height="33" fill="#000"/>
<rect x="246" y="524" width="5" height="15" fill="#000"/>
<rect x="247" y="525" width="3" height="13" fill="#fff"/>
<rect x="256" y="508" width="1" height="22" fill="#000"/>
<rect x="254" y="510" width="5" height="15" fill="#000"/>
<rect x="255" y="511" width="3" height="13" fill="#fff"/>
<rect x="264" y="472" width="1" height="50" fill="#000"/>
<rect x="262" y="481" width="5" height="32" fill="#000"/>
<rect x="263" y="482" width="3" height="30" fill="#fff"/>
<rect x="272" y="480" width="1" height="37" fill="#000"/>
<rect x="270" y="481" width="5" height="15" fill="#000"/>
<rect x="280" y="484" width="1" height="32" fill="#000"/>
<rect x="278" y="494" width="5" height="1" fill="#000"/>
<rect x="288" y="459" width="1" height="53" fill="#000"/>
<rect x="286" y="461" width="5" height="35" fill="#000"/>
<rect x="287" y="462" width="3" height="33" fill="#fff"/>
<rect x="296" y="452" width="1" height="19" fill="#000"/>
<rect x="294" y="457" width="5" height="5" fill="#000"/>
<rect x="295" y="458" width="3" height="3" fill="#fff"/>
<rect x="304" y="441" width="1" height="13" fill="#000"/>
<rect x="302" y="445" width="5" height="3" fill="#000"/>
<rect x="303" y="446" width="3" height="1" fill="#fff"/>
<rect x="312" y="422" width="1" height="69" fill="#000"/>
<rect x="310" y="445" width="5" height="36" fill="#000"/>
<rect x="320" y="454" width="1" height="39" fill="#000"/>
<rect x="318" y="467" width="5" height="14" fill="#000"/>
<rect x="319" y="468" width="3" height="12" fill="#fff"/>
<rect x="328" y="440" width="1" height="30" fill="#000"/>
<rect x="326" y="441" width="5" height="27" fill="#000"/>
<rect x="327" y="442" width="3" height="25" fill="#fff"/>
<rect x="336" y="437" width="1" height="37" fill="#000"/>
<rect x="334" y="441" width="5" height="12" fill="#000"/>
<rect x="344" y="420" width="1" height="37" fill="#000"/>
<rect x="342" y="430" width="5" height="23" fill="#000"/>
<rect x="343" y="431" width="3" height="21" fill="#fff"/>
<rect x="352" y="426" width="1" height="14" fill="#000"/>
<rect x="350" y="430" width="5" height="4" fill="#000"/>
<rect x="360" y="405" width="1" height="32" fill="#000"/>
<rect x="358" y="410" width="5" height="26" fill="#000"/>
<rect x="359" y="411" width="3" height="24" fill="#fff"/>
<rect x="368" y="359" width="1" height="54" fill="#000"/>
<rect x="366" y="363" width="5" height="48" fill="#000"/>
<rect x="367" y="364" width="3" height="46" fill="#fff"/>
<rect x="376" y="330" width="1" height="36" fill="#000"/>
<rect x="374" y="336" width="5" height="28" fill="#000"/>
<rect x="375" y="337" width="3" height="26" fill="#fff"/>
<rect x="384" y="321" width="1" height="41" fill="#000"/>
<rect x="382" y="336" width="5" height="9" fill="#000"/>
<rect x="392" y="331" width="1" height="22" fill="#000"/>
<rect x="390" y="334" width="5" height="11" fill="#000"/>
<rect x="391" y="335" width="3" height="9" fill="#fff"/>
<rect x="400" y="323" width="1" height="14" fill="#000"/>
<rect x="398" y="330" width="5" height="5" fill="#000"/>
<rect x="399" y="331" width="3" height="3" fill="#fff"/>
<rect x="408" y="325" width="1" height="34" fill="#000"/>
<rect x="406" y="329" width="5" height="25" fill="#000"/>
<rect x="416" y="337" width="1" height="46" fill="#000"/>
<rect x="414" y="353" width="5" height="29" fill="#000"/>
<rect x="424" y="373" width="1" height="26" fill="#000"/>
<rect x="422" y="379" width="5" height="3" fill="#000"/>
<rect x="423" y="380" width="3" height="1" fill="#fff"/>
<rect x="432" y="372" width="1" height="64" fill="#000"/>
<rect x="430" y="379" width="5" height="57" fill="#000"/>
<rect x="440" y="432" width="1" height="35" fill="#000"/>
<rect x="438" y="435" width="5" height="25" fill="#000"/>
<rect x="448" y="444" width="1" height="31" fill="#000"/>
<rect x="446" y="459" width="5" height="15" fill="#000"/>
<rect x="456" y="410" width="1" height="65" fill="#000"/>
<rect x="454" y="414" width="5" height="61" fill="#000"/>
<rect x="455" y="415" width="3" height="59" fill="#fff"/>
<rect x="464" y="400" width="1" height="64" fill="#000"/>
<rect x="462" y="414" width="5" height="26" fill="#000"/>
<rect x="472" y="428" width="1" height="41" fill="#000"/>
<rect x="470" y="429" width="5" height="11" fill="#000"/>
<rect x="471" y="430" width="3" height="9" fill="#fff"/>
<rect x="480" y="395" width="1" height="75" fill="#000"/>
<rect x="478" y="409" width="5" height="20" fill="#000"/>
<rect x="479" y="410" width="3" height="18" fill="#fff"/>
<rect x="488" y="399" width="1" height="22" fill="#000"/>
<rect x="486" y="408" width="5" height="1" fill="#000"/>
<rect x="496" y="408" width="1" height="19" fill="#000"/>
<rect x="494" y="409" width="5" height="10" fill="#000"/>
<rect x="504" y="400" width="1" height="42" fill="#000"/>
<rect x="502" y="418" width="5" height="20" fill="#000"/>
<rect x="512" y="393" width="1" height="48" fill="#000"/>
<rect x="510" y="408" width="5" height="30" fill="#000"/>
<rect x="511" y="409" width="3" height="28" fill="#fff"/>
<rect x="520" y="384" width="1" height="35" fill="#000"/>
<rect x="518" y="405" width="5" height="4" fill="#000"/>
<rect x="519" y="406" width="3" height="2" fill="#fff"/>
<rect x="528" y="390" width="1" height="33" fill="#000"/>
<rect x="526" y="403" width="5" height="3" fill="#000"/>
<rect x="527" y="404" width="3" height="1" fill="#fff"/>
<rect x="536" y="402" width="1" height="26" fill="#000"/>
<rect x="534" y="403" width="5" height="14" fill="#000"/>
<rect x="544" y="390" width="1" height="9" fill="#000"/>
<rect x="542" y="390" width="5" height="7" fill="#000"/>
<rect x="552" y="380" width="1" height="36" fill="#000"/>
<rect x="550" y="396" width="5" height="6" fill="#000"/>
<rect x="560" y="362" width="1" height="44" fill="#000"/>
<rect x="558" y="387" width="5" height="15" fill="#000"/>
<rect x="559" y="388" width="3" height="13" fill="#fff"/>
<rect x="568" y="364" width="1" height="28" fill="#000"/>
<rect x="566" y="374" width="5" height="14" fill="#000"/>
<rect x="567" y="375" width="3" height="12" fill="#fff"/>
<rect x="576" y="361" width="1" height="25" fill="#000"/>
<rect x="574" y="366" width="5" height="9" fill="#000"/>
<rect x="575" y="367" width="3" height="7" fill="#fff"/>
<rect x="584" y="356" width="1" height="19" fill="#000"/>
<rect x="582" y="358" width="5" height="10" fill="#000"/>
<rect x="583" y="359" width="3" height="8" fill="#fff"/>
<rect x="592" y="353" width="1" height="17" fill="#000"/>
<rect x="590" y="358" width="5" height="11" fill="#000"/>
<rect x="600" y="359" width="1" height="22" fill="#000"/>
<rect x="598" y="369" width="5" height="2" fill="#000"/>
<rect x="608" y="364" width="1" height="27" fill="#000"/>
<rect x="606" y="370" width="5" height="17" fill="#000"/>
<rect x="616" y="379" width="1" height="63" fill="#000"/>
<rect x="614" y="387" width="5" height="36" fill="#000"/>
<rect x="624" y="422" width="1" height="49" fill="#000"/>
<rect x="622" y="422" width="5" height="20" fill="#000"/>
<rect x="632" y="429" width="1" height="21" fill="#000"/>
<rect x="630" y="430" width="5" height="12" fill="#000"/>
<rect x="631" y="431" width="3" height="10" fill="#fff"/>
<rect x="640" y="422" width="1" height="13" fill="#000"/>
<rect x="638" y="430" width="5" height="4" fill="#000"/>
<rect x="648" y="416" width="1" height="24" fill="#000"/>
<rect x="646" y="419" width="5" height="17" fill="#000"/>
<rect x="647" y="420" width="3" height="15" fill="#fff"/>
<rect x="656" y="404" width="1" height="29" fill="#000"/>
<rect x="654" y="415" width="5" height="5" fill="#000"/>
<rect x="655" y="416" width="3" height="3" fill="#fff"/>
<rect x="664" y="409" width="1" height="47" fill="#000"/>
<rect x="662" y="415" width="5" height="32" fill="#000"/>
<rect x="672" y="399" width="1" height="56" fill="#000"/>
<rect x="670" y="406" width="5" height="41" fill="#000"/>
<rect x="671" y="407" width="3" height="39" fill="#fff"/>
<rect x="680" y="380" width="1" height="29" fill="#000"/>
<rect x="678" y="388" width="5" height="19" fill="#000"/>
<rect x="679" y="389" width="3" height="17" fill="#fff"/>
<rect x="688" y="383" width="1" height="14" fill="#000"/>
<rect x="686" y="388" width="5" height="4" fill="#000"/>
<rect x="696" y="360" width="1" height="33" fill="#000"/>
<rect x="694" y="378" width="5" height="14" fill="#000"/>
<rect x="695" y="379" width="3" height="12" fill="#fff"/>
<rect x="704" y="377" width="1" height="48" fill="#000"/>
<rect x="702" y="378" width="5" height="40" fill="#000"/>
<rect x="712" y="380" width="1" height="51" fill="#000"/>
<rect x="710" y="392" width="5" height="26" fill="#000"/>
<rect x="711" y="393" width="3" height="24" fill="#fff"/>
<rect x="720" y="379" width="1" height="33" fill="#000"/>
<rect x="718" y="390" width="5" height="3" fill="#000"/>
<rect x="719" y="391" width="3" height="1" fill="#fff"/>
<rect x="728" y="381" width="1" height="14" fill="#000"/>
<rect x="726" y="387" width="5" height="4" fill="#000"/>
<rect x="727" y="388" width="3" height="2" fill="#fff"/>
<rect x="736" y="378" width="1" height="15" fill="#000"/>
<rect x="734" y="378" width="5" height="10" fill="#000"/>
<rect x="735" y="379" width="3" height="8" fill="#fff"/>
<rect x="744" y="368" width="1" height="22" fill="#000"/>
<rect x="742" y="376" width="5" height="4" fill="#000"/>
<rect x="743" y="377" width="3" height="2" fill="#fff"/>
<rect x="752" y="367" width="1" height="21" fill="#000"/>
<rect x="750" y="375" width="5" height="3" fill="#000"/>
<rect x="751" y="376" width="3" height="1" fill="#fff"/>
<rect x="760" y="374" width="1" height="26" fill="#000"/>
<rect x="758" y="375" width="5" height="13" fill="#000"/>
<rect x="768" y="370" width="1" height="20" fill="#000"/>
<rect x="766" y="379" width="5" height="9" fill="#000"/>
<rect x="767" y="380" width="3" height="7" fill="#fff"/>
<rect x="776" y="374" width="1" height="11" fill="#000"/>
<rect x="774" y="374" width="5" height="6" fill="#000"/>
<rect x="775" y="375" width="3" height="4" fill="#fff"/>
<rect x="784" y="361" width="1" height="10" fill="#000"/>
<rect x="782" y="366" width="5" height="2" fill="#000"/>
<rect x="792" y="362" width="1" height="18" fill="#000"/>
<rect x="790" y="366" width="5" height="5" fill="#000"/>
<rect x="800" y="358" width="1" height="17" fill="#000"/>
<rect x="798" y="364" width="5" height="7" fill="#000"/>
<rect x="799" y="365" width="3" height="5" fill="#fff"/>
<rect x="808" y="346" width="1" height="23" fill="#000"/>
<rect x="806" y="351" width="5" height="14" fill="#000"/>
<rect x="807" y="352" width="3" height="12" fill="#fff"/>
<rect x="816" y="333" width="1" height="21" fill="#000"/>
<rect x="814" y="337" width="5" height="15" fill="#000"/>
<rect x="815" y="338" width="3" height="13" fill="#fff"/>
<rect x="824" y="335" width="1" height="7" fill="#000"/>
<rect x="822" y="337" width="5" height="1" fill="#000"/>
<rect x="832" y="327" width="1" height="17" fill="#000"/>
<rect x="830" y="331" width="5" height="8" fill="#000"/>
<rect x="831" y="332" width="3" height="6" fill="#fff"/>
<rect x="840" y="317" width="1" height="18" fill="#000"/>
<rect x="838" y="331" width="5" height="3" fill="#000"/>
<rect x="839" y="332" width="3" height="1" fill="#fff"/>
<rect x="848" y="330" width="1" height="27" fill="#000"/>
<rect x="846" y="331" width="5" height="23" fill="#000"/>
<rect x="856" y="336" width="1" height="19" fill="#000"/>
<rect x="854" y="340" width="5" height="14" fill="#000"/>
<rect x="855" y="341" width="3" height="12" fill="#fff"/>
<rect x="864" y="302" width="1" height="44" fill="#000"/>
<rect x="862" y="304" width="5" height="37" fill="#000"/>
<rect x="863" y="305" width="3" height="35" fill="#fff"/>
<rect x="872" y="301" width="1" height="15" fill="#000"/>
<rect x="870" y="304" width="5" height="5" fill="#000"/>
<rect x="880" y="301" width="1" height="17" fill="#000"/>
<rect x="878" y="303" width="5" height="6" fill="#000"/>
<rect x="879" y="304" width="3" height="4" fill="#fff"/>
<rect x="888" y="285" width="1" height="18" fill="#000"/>
<rect x="886" y="291" width="5" height="12" fill="#000"/>
<rect x="887" y="292" width="3" height="10" fill="#fff"/>
<rect x="896" y="264" width="1" height="37" fill="#000"/>
<rect x="894" y="277" width="5" height="15" fill="#000"/>
<rect x="895" y="278" width="3" height="13" fill="#fff"/>
<rect x="904" y="273" width="1" height="16" fill="#000"/>
<rect x="902" y="277" width="5" height="5" fill="#000"/>
<rect x="912" y="274" width="1" height="43" fill="#000"/>
<rect x="910" y="281" width="5" height="26" fill="#000"/>
<rect x="920" y="288" width="1" height="26" fill="#000"/>
<rect x="918" y="296" width="5" height="11" fill="#000"/>
<rect x="919" y="297" width="3" height="9" fill="#fff"/>
<rect x="928" y="290" width="1" height="12" fill="#000"/>
<rect x="926" y="298" width="5" height="1" fill="#000"/>
<rect x="936" y="295" width="1" height="16" fill="#000"/>
<rect x="934" y="297" width="5" height="6" fill="#000"/>
<rect x="944" y="282" width="1" height="29" fill="#000"/>
<rect x="942" y="286" width="5" height="17" fill="#000"/>
<rect x="943" y="287" width="3" height="15" fill="#fff"/>
<rect x="952" y="278" width="1" height="13" fill="#000"/>
<rect x="950" y="283" width="5" height="4" fill="#000"/>
<rect x="951" y="284" width="3" height="2" fill="#fff"/>
<rect x="960" y="270" width="1" height="23" fill="#000"/>
<rect x="958" y="275" width="5" height="9" fill="#000"/>
<rect x="959" y="276" width="3" height="7" fill="#fff"/>
<rect x="968" y="260" width="1" height="18" fill="#000"/>
<rect x="966" y="265" width="5" height="11" fill="#000"/>
<rect x="967" y="266" width="3" height="9" fill="#fff"/>
<rect x="976" y="258" width="1" height="12" fill="#000"/>
<rect x="974" y="259" width="5" height="7" fill="#000"/>
<rect x="975" y="260" width="3" height="5" fill="#fff"/>
<rect x="984" y="257" width="1" height="18" fill="#000"/>
<rect x="982" y="260" width="5" height="8" fill="#000"/>
<rect x="992" y="259" width="1" height="12" fill="#000"/>
<rect x="990" y="263" width="5" height="5" fill="#000"/>
<rect x="991" y="264" width="3" height="3" fill="#fff"/>
<rect x="1000" y="250" width="1" height="16" fill="#000"/>
<rect x="998" y="259" width="5" height="6" fill="#000"/>
<rect x="999" y="260" width="3" height="4" fill="#fff"/>
<rect x="1008" y="233" width="1" height="32" fill="#000"/>
<rect x="1006" y="253" width="5" height="7" fill="#000"/>
<rect x="1007" y="254" width="3" height="5" fill="#fff"/>
<rect x="1016" y="247" width="1" height="10" fill="#000"/>
<rect x="1014" y="253" width="5" height="3" fill="#000"/>
<rect x="1024" y="255" width="1" height="12" fill="#000"/>
<rect x="1022" y="256" width="5" height="11" fill="#000"/>
<rect x="1032" y="259" width="1" height="22" fill="#000"/>
<rect x="1030" y="266" width="5" height="9" fill="#000"/>
<rect x="1040" y="233" width="1" height="46" fill="#000"/>
<rect x="1038" y="234" width="5" height="41" fill="#000"/>
<rect x="1039" y="235" width="3" height="39" fill="#fff"/>
<rect x="1048" y="220" width="1" height="22" fill="#000"/>
<rect x="1046" y="229" width="5" height="5" fill="#000"/>
<rect x="1047" y="230" width="3" height="3" fill="#fff"/>
<rect x="1056" y="197" width="1" height="39" fill="#000"/>
<rect x="1054" y="198" width="5" height="32" fill="#000"/>
<rect x="1055" y="199" width="3" height="30" fill="#fff"/>
<rect x="1064" y="180" width="1" height="24" fill="#000"/>
<rect x="1062" y="188" width="5" height="10" fill="#000"/>
<rect x="1063" y="189" width="3" height="8" fill="#fff"/>
<rect x="1072" y="173" width="1" height="19" fill="#000"/>
<rect x="1070" y="178" width="5" height="11" fill="#000"/>
<rect x="1071" y="179" width="3" height="9" fill="#fff"/>
<rect x="1080" y="158" width="1" height="26" fill="#000"/>
<rect x="1078" y="166" width="5" height="14" fill="#000"/>
<rect x="1079" y="167" width="3" height="12" fill="#fff"/>
<rect x="1088" y="155" width="1" height="33" fill="#000"/>
<rect x="1086" y="166" width="5" height="6" fill="#000"/>
<rect x="1096" y="150" width="1" height="22" fill="#000"/>
<rect x="1094" y="161" width="5" height="11" fill="#000"/>
<rect x="1095" y="162" width="3" height="9" fill="#fff"/>
<rect x="1104" y="124" width="1" height="50" fill="#000"/>
<rect x="1102" y="124" width="5" height="38" fill="#000"/>
<rect x="1103" y="125" width="3" height="36" fill="#fff"/>
<rect x="1112" y="117" width="1" height="18" fill="#000"/>
<rect x="1110" y="118" width="5" height="7" fill="#000"/>
<rect x="1111" y="119" width="3" height="5" fill="#fff"/>
<rect x="1120" y="111" width="1" height="17" fill="#000"/>
<rect x="1118" y="114" width="5" height="5" fill="#000"/>
<rect x="1119" y="115" width="3" height="3" fill="#fff"/>
<rect x="1128" y="104" width="1" height="19" fill="#000"/>
<rect x="1126" y="113" width="5" height="3" fill="#000"/>
<rect x="1127" y="114" width="3" height="1" fill="#fff"/>
<rect x="1136" y="93" width="1" height="23" fill="#000"/>
<rect x="1134" y="97" width="5" height="17" fill="#000"/>
<rect x="1135" y="98" width="3" height="15" fill="#fff"/>
<rect x="1144" y="70" width="1" height="36" fill="#000"/>
<rect x="1142" y="76" width="5" height="22" fill="#000"/>
<rect x="1143" y="77" width="3" height="20" fill="#fff"/>
<rect x="1152" y="61" width="1" height="34" fill="#000"/>
<rect x="1150" y="67" width="5" height="11" fill="#000"/>
<rect x="1151" y="68" width="3" height="9" fill="#fff"/>
<rect x="1160" y="63" width="1" height="22" fill="#000"/>
<rect x="1158" y="67" width="5" height="3" fill="#000"/>
<rect x="1168" y="56" width="1" height="20" fill="#000"/>
<rect x="1166" y="59" width="5" height="11" fill="#000"/>
<rect x="1167" y="60" width="3" height="9" fill="#fff"/>
<rect x="1176" y="54" width="1" height="33" fill="#000"/>
<rect x="1174" y="60" width="5" height="24" fill="#000"/>
<rect x="1184" y="77" width="1" height="54" fill="#000"/>
<rect x="1182" y="83" width="5" height="46" fill="#000"/>
<rect x="1192" y="90" width="1" height="44" fill="#000"/>
<rect x="1190" y="95" width="5" height="34" fill="#000"/>
<rect x="1191" y="96" width="3" height="32" fill="#fff"/>
<rect x="1200" y="59" width="1" height="43" fill="#000"/>
<rect x="1198" y="92" width="5" height="4" fill="#000"/>
<rect x="1199" y="93" width="3" height="2" fill="#fff"/>
<rect x="1208" y="80" width="1" height="17" fill="#000"/>
<rect x="1206" y="87" width="5" height="6" fill="#000"/>
<rect x="1207" y="88" width="3" height="4" fill="#fff"/>
<rect x="1216" y="81" width="1" height="14" fill="#000"/>
<rect x="1214" y="86" width="5" height="1" fill="#000"/>
<rect x="1224" y="87" width="1" height="22" fill="#000"/>
<rect x="1222" y="87" width="5" height="14" fill="#000"/>
<rect x="1232" y="93" width="1" height="47" fill="#000"/>
<rect x="1230" y="100" width="5" height="37" fill="#000"/>
<rect x="1240" y="115" width="1" height="35" fill="#000"/>
<rect x="1238" y="136" width="5" height="1" fill="#000"/>
<rect x="1248" y="128" width="1" height="65" fill="#000"/>
<rect x="1246" y="136" width="5" height="46" fill="#000"/>
<rect x="1256" y="178" width="1" height="13" fill="#000"/>
<rect x="1254" y="180" width="5" height="3" fill="#000"/>
<rect x="1255" y="181" width="3" height="1" fill="#fff"/>
<rect x="1264" y="170" width="1" height="14" fill="#000"/>
<rect x="1262" y="177" width="5" height="4" fill="#000"/>
<rect x="1272" y="167" width="1" height="20" fill="#000"/>
<rect x="1270" y="168" width="5" height="12" fill="#000"/>
<rect x="1271" y="169" width="3" height="10" fill="#fff"/>
<rect x="1280" y="155" width="1" height="54" fill="#000"/>
<rect x="1278" y="167" width="5" height="42" fill="#000"/>
<rect x="1288" y="206" width="1" height="50" fill="#000"/>
<rect x="1286" y="209" width="5" height="46" fill="#000"/>
<rect x="1296" y="250" width="1" height="56" fill="#000"/>
<rect x="1294" y="254" width="5" height="15" fill="#000"/>
<rect x="1304" y="250" width="1" height="34" fill="#000"/>
<rect x="1302" y="268" width="5" height="12" fill="#000"/>
<rect x="1312" y="267" width="1" height="15" fill="#000"/>
<rect x="1310" y="276" width="5" height="5" fill="#000"/>
<rect x="1320" y="239" width="1" height="49" fill="#000"/>
<rect x="1318" y="243" width="5" height="36" fill="#000"/>
<rect x="1319" y="244" width="3" height="34" fill="#fff"/>
<rect x="1328" y="225" width="1" height="29" fill="#000"/>
<rect x="1326" y="242" width="5" height="7" fill="#000"/>
<rect x="1336" y="247" width="1" height="60" fill="#000"/>
<rect x="1334" y="248" width="5" height="55" fill="#000"/>
<rect x="1344" y="289" width="1" height="51" fill="#000"/>
<rect x="1342" y="302" width="5" height="10" fill="#000"/>
<rect x="1352" y="309" width="1" height="25" fill="#000"/>
<rect x="1350" y="312" width="5" height="4" fill="#000"/>
<rect x="1360" y="290" width="1" height="26" fill="#000"/>
<rect x="1358" y="296" width="5" height="19" fill="#000"/>
<rect x="1359" y="297" width="3" height="17" fill="#fff"/>
<rect x="1368" y="283" width="1" height="32" fill="#000"/>
<rect x="1366" y="297" width="5" height="3" fill="#000"/>
<rect x="1376" y="299" width="1" height="27" fill="#000"/>
<rect x="1374" y="299" width="5" height="14" fill="#000"/>
<rect x="1384" y="273" width="1" height="42" fill="#000"/>
<rect x="1382" y="278" width="5" height="35" fill="#000"/>
<rect x="1383" y="279" width="3" height="33" fill="#fff"/>
<rect x="1392" y="272" width="1" height="39" fill="#000"/>
<rect x="1390" y="276" width="5" height="33" fill="#000"/>
<rect x="1400" y="270" width="1" height="44" fill="#000"/>
<rect x="1398" y="277" width="5" height="32" fill="#000"/>
<rect x="1399" y="278" width="3" height="30" fill="#fff"/>
<rect x="1408" y="273" width="1" height="14" fill="#000"/>
<rect x="1406" y="278" width="5" height="4" fill="#000"/>
</g>
<rect x="1646" y="317" width="5" height="5" fill="#0000ff"/><rect x="1647" y="318" width="3" height="3" fill="#fff"/>
<rect x="1646" y="351" width="5" height="5" fill="#0000ff"/><rect x="1647" y="352" width="3" height="3" fill="#fff"/>
</g>
<g clip-path="url(#cd)" shape-rendering="crispEdges">
<rect x="0" y="672" width="1" height="20" fill="#c0c0c0"/>
<rect x="8" y="672" width="1" height="25" fill="#c0c0c0"/>
<rect x="16" y="672" width="1" height="28" fill="#c0c0c0"/>
<rect x="24" y="672" width="1" height="27" fill="#c0c0c0"/>
<rect x="32" y="672" width="1" height="30" fill="#c0c0c0"/>
<rect x="40" y="672" width="1" height="31" fill="#c0c0c0"/>
<rect x="48" y="672" width="1" height="32" fill="#c0c0c0"/>
<rect x="56" y="672" width="1" height="32" fill="#c0c0c0"/>
<rect x="64" y="672" width="1" height="29" fill="#c0c0c0"/>
<rect x="72" y="672" width="1" height="29" fill="#c0c0c0"/>
<rect x="80" y="672" width="1" height="28" fill="#c0c0c0"/>
<rect x="88" y="672" width="1" height="22" fill="#c0c0c0"/>
<rect x="96" y="672" width="1" height="23" fill="#c0c0c0"/>
<rect x="104" y="672" width="1" height="25" fill="#c0c0c0"/>
<rect x="112" y="672" width="1" height="24" fill="#c0c0c0"/>
<rect x="120" y="672" width="1" height="23" fill="#c0c0c0"/>
<rect x="128" y="672" width="1" height="24" fill="#c0c0c0"/>
<rect x="136" y="672" width="1" height="25" fill="#c0c0c0"/>
<rect x="144" y="672" width="1" height="25" fill="#c0c0c0"/>
<rect x="152" y="672" width="1" height="25" fill="#c0c0c0"/>
<rect x="160" y="672" width="1" height="24" fill="#c0c0c0"/>
<rect x="168" y="672" width="1" height="23" fill="#c0c0c0"/>
<rect x="176" y="672" width="1" height="23" fill="#c0c0c0"/>
<rect x="184" y="672" width="1" height="23" fill="#c0c0c0"/>
<rect x="192" y="672" width="1" height="24" fill="#c0c0c0"/>
<rect x="200" y="672" width="1" height="27" fill="#c0c0c0"/>
<rect x="208" y="672" width="1" height="34" fill="#c0c0c0"/>
<rect x="216" y="672" width="1" height="38" fill="#c0c0c0"/>
<rect x="224" y="672" width="1" height="48" fill="#c0c0c0"/>
<rect x="232" y="672" width="1" height="58" fill="#c0c0c0"/>
<rect x="240" y="672" width="1" height="67" fill="#c0c0c0"/>
<rect x="248" y="672" width="1" height="71" fill="#c0c0c0"/>
<rect x="256" y="672" width="1" height="73" fill="#c0c0c0"/>
<rect x="264" y="672" width="1" height="69" fill="#c0c0c0"/>
<rect x="272" y="672" width="1" height="67" fill="#c0c0c0"/>
<rect x="280" y="672" width="1" height="64" fill="#c0c0c0"/>
<rect x="288" y="672" width="1" height="59" fill="#c0c0c0"/>
<rect x="296" y="672" width="1" height="53" fill="#c0c0c0"/>
<rect x="304" y="672" width="1" height="46" fill="#c0c0c0"/>
<rect x="312" y="672" width="1" height="44" fill="#c0c0c0"/>
<rect x="320" y="672" width="1" height="39" fill="#c0c0c0"/>
<rect x="328" y="672" width="1" height="33" fill="#c0c0c0"/>
<rect x="336" y="672" width="1" height="29" fill="#c0c0c0"/>
<rect x="344" y="672" width="1" height="23" fill="#c0c0c0"/>
<rect x="352" y="672" width="1" height="18" fill="#c0c0c0"/>
<rect x="360" y="672" width="1" height="13" fill="#c0c0c0"/>
<rect x="368" y="672" width="1" height="1" fill="#c0c0c0"/>
<rect x="376" y="662" width="1" height="11" fill="#c0c0c0"/>
<rect x="384" y="653" width="1" height="20" fill="#c0c0c0"/>
<rect x="392" y="646" width="1" height="27" fill="#c0c0c0"/>
<rect x="400" y="640" width="1" height="33" fill="#c0c0c0"/>
<rect x="408" y="638" width="1" height="35" fill="#c0c0c0"/>
<rect x="416" y="641" width="1" height="32" fill="#c0c0c0"/>
<rect x="424" y="643" width="1" height="30" fill="#c0c0c0"/>
<rect x="432" y="652" width="1" height="21" fill="#c0c0c0"/>
<rect x="440" y="662" width="1" height="11" fill="#c0c0c0"/>
<rect x="448" y="671" width="1" height="2" fill="#c0c0c0"/>
<rect x="456" y="672" width="1" height="1" fill="#c0c0c0"/>
<rect x="464" y="672" width="1" height="2" fill="#c0c0c0"/>
<rect x="472" y="672" width="1" height="5" fill="#c0c0c0"/>
<rect x="480" y="672" width="1" height="2" fill="#c0c0c0"/>
<rect x="488" y="672" width="1" height="1" fill="#c0c0c0"/>
<rect x="496" y="672" width="1" height="1" fill="#c0c0c0"/>
<rect x="504" y="672" width="1" height="4" fill="#c0c0c0"/>
<rect x="512" y="672" width="1" height="2" fill="#c0c0c0"/>
<rect x="520" y="672" width="1" height="1" fill="#c0c0c0"/>
<rect x="528" y="672" width="1" height="1" fill="#c0c0c0"/>
<rect x="536" y="672" width="1" height="1" fill="#c0c0c0"/>
<rect x="544" y="670" width="1" height="3" fill="#c0c0c0"/>
<rect x="552" y="669" width="1" height="4" fill="#c0c0c0"/>
<rect x="560" y="667" width="1" height="6" fill="#c0c0c0"/>
<rect x="568" y="663" width="1" height="10" fill="#c0c0c0"/>
<rect x="576" y="660" width="1" height="13" fill="#c0c0c0"/>
<rect x="584" y="656" width="1" height="17" fill="#c0c0c0"/>
<rect x="592" y="655" width="1" height="18" fill="#c0c0c0"/>
<rect x="600" y="654" width="1" height="19" fill="#c0c0c0"/>
<rect x="608" y="656" width="1" height="17" fill="#c0c0c0"/>
<rect x="616" y="661" width="1" height="12" fill="#c0c0c0"/>
<rect x="624" y="669" width="1" height="4" fill="#c0c0c0"/>
<rect x="632" y="672" width="1" height="1" fill="#c0c0c0"/>
<rect x="640" y="672" width="1" height="4" fill="#c0c0c0"/>
<rect x="648" y="672" width="1" height="5" fill="#c0c0c0"/>
<rect x="656" y="672" width="1" height="5" fill="#c0c0c0"/>
<rect x="664" y="672" width="1" height="10" fill="#c0c0c0"/>
<rect x="672" y="672" width="1" height="7" fill="#c0c0c0"/>
<rect x="680" y="672" width="1" height="3" fill="#c0c0c0"/>
<rect x="688" y="672" width="1" height="1" fill="#c0c0c0"/>
<rect x="696" y="670" width="1" height="3" fill="#c0c0c0"/>
<rect x="704" y="672" width="1" height="1" fill="#c0c0c0"/>
<rect x="712" y="670" width="1" height="3" fill="#c0c0c0"/>
<rect x="720" y="669" width="1" height="4" fill="#c0c0c0"/>
<rect x="728" y="668" width="1" height="5" fill="#c0c0c0"/>
<rect x="736" y="665" width="1" height="8" fill="#c0c0c0"/>
<rect x="744" y="664" width="1" height="9" fill="#c0c0c0"/>
<rect x="752" y="662" width="1" height="11" fill="#c0c0c0"/>
<rect x="760" y="663" width="1" height="10" fill="#c0c0c0"/>
<rect x="768" y="662" width="1" height="11" fill="#c0c0c0"/>
<rect x="776" y="661" width="1" height="12" fill="#c0c0c0"/>
<rect x="784" y="659" width="1" height="14" fill="#c0c0c0"/>
<rect x="792" y="659" width="1" height="14" fill="#c0c0c0"/>
<rect x="800" y="658" width="1" height="15" fill="#c0c0c0"/>
<rect x="808" y="656" width="1" height="17" fill="#c0c0c0"/>
<rect x="816" y="652" width="1" height="21" fill="#c0c0c0"/>
<rect x="824" y="650" width="1" height="23" fill="#c0c0c0"/>
<rect x="832" y="648" width="1" height="25" fill="#c0c0c0"/>
<rect x="840" y="646" width="1" height="27" fill="#c0c0c0"/>
<rect x="848" y="648" width="1" height="25" fill="#c0c0c0"/>
<rect x="856" y="648" width="1" height="25" fill="#c0c0c0"/>
<rect x="864" y="644" width="1" height="29" fill="#c0c0c0"/>
<rect x="872" y="642" width="1" height="31" fill="#c0c0c0"/>
<rect x="880" y="640" width="1" height="33" fill="#c0c0c0"/>
<rect x="888" y="637" width="1" height="36" fill="#c0c0c0"/>
<rect x="896" y="634" width="1" height="39" fill="#c0c0c0"/>
<rect x="904" y="632" width="1" height="41" fill="#c0c0c0"/>
<rect x="912" y="634" width="1" height="39" fill="#c0c0c0"/>
<rect x="920" y="635" width="1" height="38" fill="#c0c0c0"/>
<rect x="928" y="637" width="1" height="36" fill="#c0c0c0"/>
<rect x="936" y="638" width="1" height="35" fill="#c0c0c0"/>
<rect x="944" y="638" width="1" height="35" fill="#c0c0c0"/>
<rect x="952" y="638" width="1" height="35" fill="#c0c0c0"/>
<rect x="960" y="638" width="1" height="35" fill="#c0c0c0"/>
<rect x="968" y="636" width="1" height="37" fill="#c0c0c0"/>
<rect x="976" y="635" width="1" height="38" fill="#c0c0c0"/>
<rect x="984" y="636" width="1" height="37" fill="#c0c0c0"/>
<rect x="992" y="636" width="1" height="37" fill="#c0c0c0"/>
<rect x="1000" y="636" width="1" height="37" fill="#c0c0c0"/>
<rect x="1008" y="636" width="1" height="37" fill="#c0c0c0"/>
<rect x="1016" y="636" width="1" height="37" fill="#c0c0c0"/>
<rect x="1024" y="638" width="1" height="35" fill="#c0c0c0"/>
<rect x="1032" y="641" width="1" height="32" fill="#c0c0c0"/>
<rect x="1040" y="639" width="1" height="34" fill="#c0c0c0"/>
<rect x="1048" y="637" width="1" height="36" fill="#c0c0c0"/>
<rect x="1056" y="632" width="1" height="41" fill="#c0c0c0"/>
<rect x="1064" y="628" width="1" height="45" fill="#c0c0c0"/>
<rect x="1072" y="623" width="1" height="50" fill="#c0c0c0"/>
<rect x="1080" y="619" width="1" height="54" fill="#c0c0c0"/>
<rect x="1088" y="617" width="1" height="56" fill="#c0c0c0"/>
<rect x="1096" y="615" width="1" height="58" fill="#c0c0c0"/>
<rect x="1104" y="609" width="1" height="64" fill="#c0c0c0"/>
<rect x="1112" y="605" width="1" height="68" fill="#c0c0c0"/>
<rect x="1120" y="602" width="1" height="71" fill="#c0c0c0"/>
<rect x="1128" y="600" width="1" height="73" fill="#c0c0c0"/>
<rect x="1136" y="597" width="1" height="76" fill="#c0c0c0"/>
<rect x="1144" y="594" width="1" height="79" fill="#c0c0c0"/>
<rect x="1152" y="591" width="1" height="82" fill="#c0c0c0"/>
<rect x="1160" y="590" width="1" height="83" fill="#c0c0c0"/>
<rect x="1168" y="588" width="1" height="85" fill="#c0c0c0"/>
<rect x="1176" y="591" width="1" height="82" fill="#c0c0c0"/>
<rect x="1184" y="600" width="1" height="73" fill="#c0c0c0"/>
<rect x="1192" y="604" width="1" height="69" fill="#c0c0c0"/>
<rect x="1200" y="607" width="1" height="66" fill="#c0c0c0"/>
<rect x="1208" y="609" width="1" height="64" fill="#c0c0c0"/>
<rect x="1216" y="612" width="1" height="61" fill="#c0c0c0"/>
<rect x="1224" y="617" width="1" height="56" fill="#c0c0c0"/>
<rect x="1232" y="625" width="1" height="48" fill="#c0c0c0"/>
<rect x="1240" y="632" width="1" height="41" fill="#c0c0c0"/>
<rect x="1248" y="644" width="1" height="29" fill="#c0c0c0"/>
<rect x="1256" y="653" width="1" height="20" fill="#c0c0c0"/>
<rect x="1264" y="661" width="1" height="12" fill="#c0c0c0"/>
<rect x="1272" y="665" width="1" height="8" fill="#c0c0c0"/>
<rect x="1280" y="672" width="1" height="1" fill="#c0c0c0"/>
<rect x="1288" y="672" width="1" height="14" fill="#c0c0c0"/>
<rect x="1296" y="672" width="1" height="25" fill="#c0c0c0"/>
<rect x="1304" y="672" width="1" height="35" fill="#c0c0c0"/>
<rect x="1312" y="672" width="1" height="41" fill="#c0c0c0"/>
<rect x="1320" y="672" width="1" height="43" fill="#c0c0c0"/>
<rect x="1328" y="672" width="1" height="43" fill="#c0c0c0"/>
<rect x="1336" y="672" width="1" height="49" fill="#c0c0c0"/>
<rect x="1344" y="672" width="1" height="55" fill="#c0c0c0"/>
<rect x="1352" y="672" width="1" height="60" fill="#c0c0c0"/>
<rect x="1360" y="672" width="1" height="60" fill="#c0c0c0"/>
<rect x="1368" y="672" width="1" height="61" fill="#c0c0c0"/>
<rect x="1376" y="672" width="1" height="62" fill="#c0c0c0"/>
<rect x="1384" y="672" width="1" height="57" fill="#c0c0c0"/>
<rect x="1392" y="672" width="1" height="57" fill="#c0c0c0"/>
<rect x="1400" y="672" width="1" height="53" fill="#c0c0c0"/>
<rect x="1408" y="672" width="1" height="49" fill="#c0c0c0"/>
<path transform="translate(0,0.5)" d="M1176 594h3M1182 594h3M1188 594h3M1194 594h3M1170 595h3M1200 595h3M1206 596h3M1164 597h3M1212 597h3M1218 598h1M1158 599h3M1219 599h2M1154 600h1M1152 601h2M1224 601h1M1225 602h2M1148 603h1M1146 604h2M1230 604h2M1232 605h1M1142 607h1M1236 607h2M1140 608h2M1238 608h1M1136 610h1M1242 610h1M1134 611h2M1243 611h1M1128 612h3M1244 612h1M1123 614h2M1122 615h1M1248 615h1M1249 616h1M1118 617h1M1250 617h1M1116 618h2M1254 620h1M1111 621h2M1255 621h2M1110 622h1M1104 623h3M1260 624h1M1098 625h3M1261 625h1M1262 626h1M1093 627h2M1092 628h1M1088 629h1M1266 629h1M1086 630h2M1267 630h1M1080 631h3M1268 631h1M1074 632h3M1069 634h2M1272 634h1M930 635h3M936 635h3M942 635h3M948 635h3M954 635h3M960 635h3M966 635h3M1020 635h3M1026 635h3M1063 635h2M1068 635h1M1273 635h1M919 636h2M924 636h3M972 636h3M978 636h3M984 636h3M990 636h3M996 636h3M1002 636h3M1008 636h3M1014 636h3M1032 636h3M1038 636h3M1044 636h3M1050 636h3M1056 636h3M1062 636h1M1274 636h1M918 637h1M914 638h1M912 639h2M902 640h1M906 640h3M1278 640h1M900 641h2M1279 641h1M895 642h2M1280 642h1M894 643h1M888 644h3M882 645h3M876 646h3M1284 646h1M440 647h1M444 647h2M870 647h3M1285 647h1M434 648h1M438 648h2M446 648h1M450 648h1M866 648h1M1286 648h1M432 649h2M451 649h2M864 649h2M859 650h2M427 651h2M456 651h2M858 651h1M426 652h1M458 652h1M840 652h3M846 652h3M852 652h3M1290 652h1M462 653h1M1291 653h1M422 654h1M463 654h2M834 654h3M1292 654h1M420 655h2M828 655h3M468 656h2M822 656h3M470 657h1M816 657h3M416 658h1M810 658h3M1295 658h1M415 659h1M474 659h2M614 659h1M618 659h3M624 659h3M630 659h2M800 659h1M804 659h3M1296 659h1M414 660h1M476 660h1M608 660h1M612 660h2M632 660h1M636 660h3M794 660h1M798 660h2M1297 660h1M480 661h1M606 661h2M642 661h3M792 661h2M481 662h2M600 662h3M786 662h3M409 663h2M595 663h2M648 663h2M781 663h2M408 664h1M486 664h2M594 664h1M650 664h1M774 664h3M780 664h1M1301 664h1M488 665h1M588 665h3M654 665h3M762 665h3M768 665h3M1302 665h1M492 666h1M582 666h3M660 666h1M756 666h3M1303 666h1M493 667h2M578 667h1M661 667h2M750 667h3M404 668h1M576 668h2M666 668h1M746 668h1M403 669h1M498 669h2M570 669h3M667 669h2M744 669h2M402 670h1M500 670h1M559 670h2M564 670h3M672 670h1M738 670h3M1306 670h1M547 671h2M552 671h3M558 671h1M673 671h2M734 671h1M1307 671h1M504 672h3M540 672h3M546 672h1M726 672h3M732 672h2M1308 672h1M398 673h1M510 673h2M530 673h1M534 673h3M678 673h3M714 673h3M720 673h3M397 674h1M512 674h1M516 674h3M522 674h3M528 674h2M684 674h3M698 674h1M702 674h3M708 674h3M396 675h1M690 675h3M696 675h2M1312 676h1M1313 677h1M1314 678h1M0 679h2M392 679h1M2 680h1M391 680h1M6 681h2M390 681h1M1318 681h1M8 682h1M1319 682h1M12 683h2M1320 683h1M14 684h1M386 684h1M18 685h3M385 685h1M24 686h1M384 686h1M25 687h2M1324 687h1M30 688h1M1325 688h1M31 689h2M380 689h1M1326 689h1M36 690h1M379 690h1M37 691h2M378 691h1M42 692h1M1330 692h1M43 693h2M1331 693h1M374 694h1M1332 694h1M48 695h3M150 695h3M156 695h3M162 695h3M181 695h2M186 695h3M192 695h3M373 695h1M54 696h2M132 696h3M138 696h3M144 696h3M168 696h3M174 696h3M180 696h1M198 696h3M204 696h1M372 696h1M56 697h1M120 697h3M126 697h3M205 697h2M210 697h3M1336 697h1M60 698h3M108 698h3M114 698h3M216 698h2M1337 698h1M66 699h3M98 699h1M102 699h3M218 699h1M368 699h1M1338 699h1M72 700h3M90 700h3M96 700h2M222 700h3M367 700h1M78 701h3M84 701h3M366 701h1M228 702h1M1342 702h1M229 703h2M1343 703h1M361 704h2M1344 704h1M234 705h1M360 705h1M235 706h2M356 707h1M240 708h2M354 708h2M1348 708h1M242 709h1M1349 709h1M1350 710h1M349 711h2M246 712h2M348 712h1M248 713h1M1354 713h1M344 714h1M1355 714h2M342 715h2M252 716h1M1360 716h1M253 717h1M1361 717h2M254 718h1M338 718h1M336 719h2M1366 719h1M1367 720h2M258 721h2M260 722h1M331 722h2M1372 722h1M330 723h1M1373 723h2M264 724h2M1378 724h1M266 725h1M325 725h2M1379 725h2M324 726h1M1384 726h3M270 727h2M1390 727h3M272 728h1M319 728h2M1396 728h3M1402 728h1M318 729h1M1403 729h2M1408 729h1M276 730h1M277 731h2M313 731h2M312 732h1M282 733h2M306 733h3M284 734h1M302 734h1M288 735h3M300 735h2M294 736h3" fill="none" stroke="#ff0000" stroke-width="1"/>
</g>
<g clip-path="url(#cr)" shape-rendering="crispEdges">
<line x1="0" y1="790.5" x2="1651" y2="790.5" stroke="#c0c0c0" stroke-width="1" stroke-dasharray="3 3"/>
<line x1="0" y1="841.5" x2="1651" y2="841.5" stroke="#c0c0c0" stroke-width="1" stroke-dasharray="3 3"/>
<line x1="0" y1="902.5" x2="1651" y2="902.5" stroke="#c0c0c0" stroke-width="1" stroke-dasharray="3 3"/>
<path transform="translate(0,0.5)" d="M1149 775h6M1143 776h6M1155 776h4M1165 776h4M1141 777h2M1159 777h6M1168 777h1M1138 778h3M1169 778h1M1135 779h3M1169 779h1M1133 780h2M1170 780h1M1130 781h3M1170 781h1M1117 782h13M1170 782h1M1109 783h8M1171 783h1M1104 784h5M1171 784h1M1103 785h1M1172 785h1M1102 786h1M1172 786h1M1101 787h1M1172 787h1M1099 788h2M1173 788h1M1079 789h3M1098 789h1M1173 789h1M1077 790h2M1082 790h2M1097 790h1M1174 790h1M1074 791h3M1084 791h2M1095 791h2M1174 791h1M1071 792h3M1086 792h2M1091 792h4M1174 792h1M1067 793h4M1088 793h3M1175 793h1M1063 794h4M1175 794h1M1059 795h4M1176 795h1M1056 796h3M1176 796h1M1055 797h1M1176 797h1M1054 798h1M1177 798h1M1054 799h1M1177 799h1M1053 800h1M1177 800h1M1052 801h1M1177 801h1M896 802h2M1051 802h1M1178 802h1M894 803h2M898 803h3M1050 803h1M1178 803h1M892 804h2M901 804h2M1050 804h1M1178 804h1M890 805h2M903 805h2M1049 805h1M1178 805h1M888 806h2M904 806h1M973 806h4M1047 806h2M1179 806h1M886 807h2M905 807h1M968 807h5M977 807h1M1005 807h8M1043 807h4M1179 807h1M884 808h2M905 808h1M966 808h2M978 808h1M999 808h6M1013 808h4M1040 808h3M1179 808h1M882 809h2M906 809h1M965 809h1M979 809h2M997 809h2M1017 809h1M1040 809h1M1179 809h1M864 810h3M879 810h3M906 810h1M963 810h2M981 810h1M994 810h3M1018 810h1M1039 810h1M1180 810h1M397 811h4M863 811h1M867 811h4M875 811h4M907 811h1M961 811h2M982 811h1M991 811h3M1018 811h1M1039 811h1M1180 811h1M376 812h2M391 812h6M401 812h1M863 812h1M871 812h4M907 812h1M959 812h2M983 812h1M987 812h4M1019 812h1M1038 812h1M1180 812h1M374 813h2M378 813h3M389 813h2M401 813h1M831 813h10M862 813h1M908 813h1M957 813h2M984 813h3M1020 813h1M1038 813h1M1180 813h1M1207 813h6M372 814h2M381 814h2M386 814h3M402 814h1M829 814h2M840 814h1M862 814h1M908 814h1M954 814h3M1021 814h1M1037 814h1M1181 814h1M1203 814h4M1213 814h4M370 815h2M383 815h3M403 815h1M816 815h5M826 815h3M841 815h1M861 815h1M909 815h1M949 815h5M1022 815h1M1037 815h1M1181 815h1M1197 815h6M1217 815h1M368 816h2M403 816h1M814 816h2M821 816h5M841 816h1M860 816h1M909 816h1M944 816h5M1022 816h1M1037 816h1M1181 816h1M1192 816h5M1218 816h1M367 817h1M404 817h1M813 817h1M842 817h1M860 817h1M910 817h1M943 817h1M1023 817h1M1036 817h1M1181 817h1M1191 817h1M1219 817h1M367 818h1M405 818h1M811 818h2M842 818h1M859 818h1M910 818h1M942 818h1M1024 818h1M1036 818h1M1182 818h1M1191 818h1M1220 818h1M366 819h1M405 819h1M809 819h2M843 819h1M858 819h1M911 819h1M919 819h6M941 819h1M1025 819h1M1035 819h1M1182 819h1M1190 819h1M1221 819h1M366 820h1M406 820h1M808 820h1M843 820h1M858 820h1M911 820h1M917 820h2M925 820h5M939 820h2M1026 820h1M1035 820h1M1182 820h1M1189 820h1M1222 820h1M365 821h1M407 821h1M807 821h1M844 821h1M857 821h1M912 821h1M914 821h3M930 821h3M938 821h1M1027 821h1M1035 821h1M1182 821h1M1188 821h1M1223 821h1M365 822h1M407 822h1M806 822h1M844 822h1M857 822h1M912 822h2M933 822h2M937 822h1M1028 822h1M1034 822h1M1183 822h1M1188 822h1M1224 822h1M364 823h1M408 823h1M583 823h3M805 823h1M845 823h1M856 823h1M935 823h2M1028 823h1M1034 823h1M1183 823h1M1187 823h1M1224 823h1M363 824h1M409 824h1M579 824h4M586 824h2M803 824h2M845 824h1M855 824h1M1029 824h1M1033 824h1M1183 824h1M1186 824h1M1225 824h1M363 825h1M409 825h1M575 825h4M588 825h2M802 825h1M846 825h1M853 825h2M1030 825h1M1033 825h1M1183 825h1M1185 825h1M1225 825h1M362 826h1M410 826h1M573 826h2M590 826h2M801 826h1M846 826h1M852 826h1M1031 826h2M1184 826h2M1226 826h1M362 827h1M411 827h1M570 827h3M592 827h3M799 827h2M847 827h1M851 827h1M1032 827h1M1184 827h1M1226 827h1M361 828h1M412 828h1M567 828h3M595 828h4M783 828h4M797 828h2M847 828h1M849 828h2M1227 828h1M361 829h1M412 829h1M565 829h2M599 829h2M781 829h2M787 829h4M794 829h3M848 829h1M1227 829h1M360 830h1M413 830h1M562 830h3M601 830h1M696 830h1M749 830h4M778 830h3M791 830h3M1228 830h1M359 831h1M414 831h1M560 831h2M602 831h1M694 831h3M741 831h8M753 831h1M775 831h3M1228 831h1M358 832h1M415 832h1M559 832h1M603 832h1M693 832h1M697 832h1M735 832h6M754 832h1M771 832h4M1228 832h1M357 833h1M415 833h1M421 833h4M557 833h2M604 833h1M691 833h2M697 833h1M731 833h4M755 833h2M768 833h3M1229 833h1M356 834h1M416 834h5M424 834h1M556 834h1M605 834h1M680 834h5M689 834h2M698 834h1M727 834h4M757 834h1M766 834h2M1229 834h1M356 835h1M425 835h1M544 835h3M555 835h1M606 835h1M678 835h2M685 835h4M698 835h1M723 835h4M758 835h1M764 835h2M1230 835h1M355 836h1M425 836h1M543 836h1M547 836h4M553 836h2M607 836h1M677 836h1M699 836h1M717 836h6M759 836h1M762 836h2M1230 836h1M88 837h1M344 837h3M354 837h1M426 837h1M542 837h1M551 837h2M608 837h1M675 837h2M699 837h1M712 837h5M760 837h2M1231 837h1M87 838h2M343 838h1M347 838h4M353 838h1M426 838h1M517 838h13M541 838h1M609 838h1M673 838h2M700 838h1M711 838h1M1231 838h1M87 839h1M89 839h1M342 839h1M351 839h2M427 839h1M512 839h5M530 839h2M539 839h2M609 839h1M672 839h1M700 839h1M710 839h1M1232 839h1M86 840h1M89 840h1M341 840h1M427 840h1M480 840h10M511 840h1M532 840h2M538 840h1M610 840h1M672 840h1M701 840h1M709 840h1M1232 840h9M86 841h1M90 841h1M328 841h1M340 841h1M428 841h1M479 841h1M490 841h3M510 841h1M534 841h2M537 841h1M610 841h1M671 841h1M701 841h1M708 841h1M1240 841h1M85 842h1M90 842h1M327 842h1M329 842h2M340 842h1M428 842h1M456 842h1M477 842h2M493 842h2M510 842h1M536 842h1M611 842h1M671 842h1M702 842h1M708 842h1M1241 842h1M85 843h1M91 843h1M327 843h1M331 843h2M339 843h1M429 843h1M456 843h2M476 843h1M495 843h2M509 843h1M611 843h1M670 843h1M702 843h1M707 843h1M1241 843h1M84 844h1M91 844h1M326 844h1M333 844h1M338 844h1M429 844h1M455 844h1M458 844h1M475 844h1M497 844h2M508 844h1M612 844h1M670 844h1M703 844h1M706 844h1M1242 844h1M84 845h1M91 845h1M325 845h1M334 845h2M337 845h1M430 845h1M455 845h1M459 845h2M473 845h2M499 845h1M507 845h1M612 845h1M655 845h2M669 845h1M703 845h1M705 845h1M1242 845h1M83 846h1M92 846h1M304 846h1M324 846h1M336 846h1M430 846h1M454 846h1M461 846h1M471 846h2M500 846h1M506 846h1M613 846h1M651 846h4M657 846h1M669 846h1M704 846h1M1243 846h1M83 847h1M92 847h1M302 847h2M305 847h1M324 847h1M431 847h1M454 847h1M462 847h1M469 847h2M501 847h2M506 847h1M613 847h1M648 847h3M657 847h1M669 847h1M1243 847h1M82 848h1M93 848h1M300 848h2M305 848h1M323 848h1M431 848h1M454 848h1M463 848h1M466 848h3M503 848h1M505 848h1M614 848h1M647 848h1M658 848h1M668 848h1M1244 848h1M82 849h1M93 849h1M120 849h1M168 849h1M298 849h2M306 849h1M322 849h1M432 849h1M453 849h1M464 849h2M504 849h1M614 849h1M646 849h1M658 849h1M668 849h1M1244 849h1M81 850h1M93 850h1M118 850h2M121 850h1M167 850h1M169 850h2M295 850h3M307 850h1M321 850h1M432 850h1M453 850h1M615 850h1M645 850h1M659 850h1M667 850h1M1244 850h1M81 851h1M94 851h1M117 851h1M122 851h1M166 851h1M171 851h1M291 851h4M307 851h1M321 851h1M433 851h1M452 851h1M615 851h1M643 851h2M660 851h1M667 851h1M1245 851h1M1272 851h1M80 852h1M94 852h1M115 852h2M123 852h1M165 852h1M172 852h1M288 852h3M308 852h1M320 852h1M434 852h1M452 852h1M616 852h1M642 852h1M660 852h1M667 852h1M1245 852h1M1271 852h1M1273 852h1M80 853h1M95 853h1M113 853h2M124 853h1M164 853h1M173 853h2M288 853h1M309 853h1M319 853h1M435 853h1M452 853h1M617 853h2M632 853h5M641 853h1M661 853h1M666 853h1M1246 853h1M1269 853h2M1273 853h1M79 854h1M95 854h1M112 854h1M125 854h1M152 854h2M163 854h1M175 854h1M287 854h1M309 854h1M317 854h2M436 854h1M451 854h1M619 854h1M630 854h2M637 854h4M662 854h1M666 854h1M1246 854h1M1268 854h1M1274 854h1M1407 854h2M24 855h1M77 855h2M96 855h1M110 855h2M126 855h1M151 855h1M154 855h3M162 855h1M176 855h5M287 855h1M310 855h1M316 855h1M436 855h1M451 855h1M620 855h1M629 855h1M662 855h1M665 855h1M1247 855h1M1267 855h1M1274 855h1M1405 855h2M23 856h1M25 856h1M63 856h3M76 856h1M96 856h2M109 856h1M127 856h1M149 856h2M157 856h2M161 856h1M181 856h8M286 856h1M311 856h1M315 856h1M437 856h1M450 856h1M621 856h2M627 856h2M663 856h1M665 856h1M1247 856h1M1265 856h2M1275 856h1M1402 856h3M22 857h1M26 857h1M61 857h2M66 857h3M75 857h1M98 857h3M107 857h2M128 857h5M148 857h1M159 857h2M189 857h4M286 857h1M311 857h1M313 857h2M438 857h1M450 857h1M623 857h1M625 857h2M663 857h2M1248 857h1M1253 857h12M1275 857h1M1400 857h2M21 858h1M26 858h1M58 858h3M69 858h2M73 858h2M101 858h2M105 858h2M133 858h6M147 858h1M192 858h1M285 858h1M312 858h1M439 858h1M450 858h1M624 858h1M664 858h1M1248 858h5M1276 858h1M1384 858h1M1399 858h1M20 859h1M27 859h1M55 859h3M71 859h2M103 859h2M139 859h4M145 859h2M193 859h1M285 859h1M440 859h2M449 859h1M1276 859h1M1383 859h1M1385 859h1M1398 859h1M20 860h1M28 860h1M51 860h4M143 860h2M193 860h1M284 860h1M442 860h3M449 860h1M1277 860h1M1383 860h1M1386 860h1M1397 860h1M19 861h1M29 861h1M45 861h6M194 861h1M284 861h1M445 861h2M448 861h1M1277 861h1M1382 861h1M1387 861h1M1396 861h1M18 862h1M30 862h1M39 862h6M194 862h1M283 862h1M447 862h2M1278 862h1M1382 862h1M1388 862h1M1396 862h1M17 863h1M30 863h1M37 863h2M195 863h1M283 863h1M1278 863h1M1320 863h5M1381 863h1M1389 863h1M1395 863h1M16 864h1M31 864h1M34 864h3M195 864h1M282 864h1M1279 864h1M1320 864h1M1325 864h4M1381 864h1M1390 864h1M1394 864h1M15 865h1M32 865h2M196 865h1M264 865h2M282 865h1M1279 865h1M1319 865h1M1329 865h1M1380 865h1M1391 865h1M1393 865h1M14 866h1M196 866h1M263 866h1M266 866h3M281 866h1M1280 866h1M1319 866h1M1329 866h1M1380 866h1M1392 866h1M13 867h1M197 867h1M263 867h1M269 867h2M281 867h1M1281 867h1M1318 867h1M1330 867h1M1379 867h1M12 868h1M197 868h1M262 868h1M271 868h6M280 868h1M1282 868h1M1318 868h1M1330 868h1M1379 868h1M11 869h1M198 869h1M262 869h1M277 869h4M1282 869h1M1317 869h1M1331 869h1M1378 869h1M10 870h1M198 870h1M261 870h1M1283 870h1M1317 870h1M1332 870h1M1360 870h5M1378 870h1M9 871h1M199 871h1M261 871h1M1284 871h1M1316 871h1M1332 871h1M1359 871h1M1365 871h5M1377 871h1M0 872h9M199 872h1M260 872h1M1285 872h1M1316 872h1M1333 872h1M1358 872h1M1370 872h3M1377 872h1M200 873h1M260 873h1M1286 873h1M1315 873h1M1334 873h1M1357 873h1M1373 873h2M1376 873h1M200 874h2M259 874h1M1286 874h1M1315 874h1M1334 874h1M1356 874h1M1375 874h2M202 875h3M259 875h1M1287 875h1M1314 875h1M1335 875h1M1356 875h1M205 876h2M258 876h1M1288 876h2M1314 876h1M1335 876h1M1355 876h1M207 877h6M258 877h1M1290 877h3M1313 877h1M1336 877h3M1354 877h1M213 878h4M257 878h1M1293 878h2M1313 878h1M1339 878h4M1353 878h1M217 879h1M257 879h1M1295 879h4M1312 879h1M1343 879h10M217 880h1M256 880h1M1299 880h4M1309 880h4M218 881h1M255 881h1M1303 881h6M218 882h1M254 882h1M219 883h1M253 883h1M220 884h1M252 884h1M220 885h1M251 885h1M221 886h1M250 886h1M222 887h1M249 887h1M222 888h1M248 888h1M223 889h1M247 889h1M223 890h1M246 890h1M224 891h2M245 891h1M226 892h3M244 892h1M229 893h2M244 893h1M231 894h3M243 894h1M234 895h3M242 895h1M237 896h2M241 896h1M239 897h2" fill="none" stroke="#1e90ff" stroke-width="1"/>
</g>
<g shape-rendering="crispEdges" fill="#000">
<rect x="1652" y="45" width="3" height="1"/>
<rect x="1652" y="78" width="3" height="1"/>
<rect x="1652" y="111" width="3" height="1"/>
<rect x="1652" y="144" width="3" height="1"/>
<rect x="1652" y="177" width="3" height="1"/>
<rect x="1652" y="210" width="3" height="1"/>
<rect x="1652" y="243" width="3" height="1"/>
<rect x="1652" y="276" width="3" height="1"/>
<rect x="1652" y="309" width="3" height="1"/>
<rect x="1652" y="342" width="3" height="1"/>
<rect x="1652" y="375" width="3" height="1"/>
<rect x="1652" y="408" width="3" height="1"/>
<rect x="1652" y="441" width="3" height="1"/>
<rect x="1652" y="474" width="3" height="1"/>
<rect x="1652" y="507" width="3" height="1"/>
<rect x="1652" y="540" width="3" height="1"/>
<rect x="1652" y="573" width="3" height="1"/>
<rect x="1652" y="580" width="1" height="1"/>
<rect x="1652" y="672" width="1" height="1"/>
<rect x="1652" y="751" width="1" height="1"/>
<rect x="1652" y="756" width="1" height="1"/>
<rect x="1652" y="926" width="1" height="1"/>
<rect x="56" y="929" width="1" height="3"/>
<rect x="120" y="929" width="1" height="3"/>
<rect x="184" y="929" width="1" height="3"/>
<rect x="248" y="929" width="1" height="3"/>
<rect x="312" y="929" width="1" height="3"/>
<rect x="376" y="929" width="1" height="3"/>
<rect x="440" y="929" width="1" height="3"/>
<rect x="504" y="929" width="1" height="3"/>
<rect x="568" y="929" width="1" height="3"/>
<rect x="632" y="929" width="1" height="3"/>
<rect x="696" y="929" width="1" height="3"/>
<rect x="760" y="929" width="1" height="3"/>
<rect x="824" y="929" width="1" height="3"/>
<rect x="888" y="929" width="1" height="3"/>
<rect x="952" y="929" width="1" height="3"/>
<rect x="1016" y="929" width="1" height="3"/>
<rect x="1080" y="929" width="1" height="3"/>
<rect x="1144" y="929" width="1" height="3"/>
<rect x="1208" y="929" width="1" height="3"/>
<rect x="1272" y="929" width="1" height="3"/>
<rect x="1336" y="929" width="1" height="3"/>
<rect x="1400" y="929" width="1" height="3"/>
</g>
<g font-size="9.4" fill="#000">
<text x="1657" y="48.6" textLength="33" lengthAdjust="spacingAndGlyphs">168.950</text>
<text x="1657" y="81.6" textLength="33" lengthAdjust="spacingAndGlyphs">168.100</text>
<text x="1657" y="114.5" textLength="33" lengthAdjust="spacingAndGlyphs">167.250</text>
<text x="1657" y="147.4" textLength="33" lengthAdjust="spacingAndGlyphs">166.400</text>
<text x="1657" y="181.3" textLength="33" lengthAdjust="spacingAndGlyphs">165.525</text>
<text x="1657" y="214.3" textLength="33" lengthAdjust="spacingAndGlyphs">164.675</text>
<text x="1657" y="247.2" textLength="33" lengthAdjust="spacingAndGlyphs">163.825</text>
<text x="1657" y="280.2" textLength="33" lengthAdjust="spacingAndGlyphs">162.975</text>
<text x="1657" y="313.1" textLength="33" lengthAdjust="spacingAndGlyphs">162.125</text>
<text x="1657" y="346.0" textLength="33" lengthAdjust="spacingAndGlyphs">161.275</text>
<text x="1657" y="379.0" textLength="33" lengthAdjust="spacingAndGlyphs">160.425</text>
<text x="1657" y="411.9" textLength="33" lengthAdjust="spacingAndGlyphs">159.575</text>
<text x="1657" y="444.8" textLength="33" lengthAdjust="spacingAndGlyphs">158.725</text>
<text x="1657" y="477.8" textLength="33" lengthAdjust="spacingAndGlyphs">157.875</text>
<text x="1657" y="510.7" textLength="33" lengthAdjust="spacingAndGlyphs">157.025</text>
<text x="1657" y="543.7" textLength="33" lengthAdjust="spacingAndGlyphs">156.175</text>
<text x="1657" y="576.6" textLength="33" lengthAdjust="spacingAndGlyphs">155.325</text>
<text x="1655" y="589" textLength="27.5" lengthAdjust="spacingAndGlyphs">1.5593</text>
<text x="1655" y="675.5">0.00</text>
<text x="1655" y="749" textLength="26" lengthAdjust="spacingAndGlyphs">-1.353</text>
<text x="1655" y="765">100</text>
<text x="1655" y="793.5">80</text>
<text x="1655" y="844.5">50</text>
<text x="1655" y="905.5">15</text>
<text x="1655" y="924.5">0</text>
</g>
<g font-size="9.4" fill="#000">
<text x="-8.7" y="941">5 May 2022</text>
<text x="54.5" y="941">6 May 16:00</text>
<text x="118.5" y="941">10 May 00:00</text>
<text x="182.5" y="941">11 May 08:00</text>
<text x="246.5" y="941">12 May 16:00</text>
<text x="310.5" y="941">16 May 00:00</text>
<text x="374.5" y="941">17 May 08:00</text>
<text x="438.5" y="941">18 May 16:00</text>
<text x="502.5" y="941">20 May 00:00</text>
<text x="566.5" y="941">23 May 08:00</text>
<text x="630.5" y="941">24 May 16:00</text>
<text x="694.5" y="941">26 May 00:00</text>
<text x="758.5" y="941">27 May 08:00</text>
<text x="822.5" y="941">30 May 16:00</text>
<text x="886.5" y="941">1 Jun 00:00</text>
<text x="950.5" y="941">2 Jun 08:00</text>
<text x="1014.5" y="941">3 Jun 16:00</text>
<text x="1078.5" y="941">7 Jun 00:00</text>
<text x="1142.5" y="941">8 Jun 08:00</text>
<text x="1206.5" y="941">9 Jun 16:00</text>
<text x="1270.5" y="941">13 Jun 00:00</text>
<text x="1334.5" y="941">14 Jun 08:00</text>
<text x="1398.5" y="941">15 Jun 16:00</text>
</g>
<rect x="1653" y="276" width="41" height="11" fill="#000" shape-rendering="crispEdges"/>
<text x="1657" y="285.4" font-size="9.4" fill="#fff" textLength="33" lengthAdjust="spacingAndGlyphs">162.848</text>
<rect x="1653" y="201" width="41" height="11" fill="#ff0000" shape-rendering="crispEdges"/>
<text x="1657" y="210.4" font-size="9.4" fill="#fff" textLength="33" lengthAdjust="spacingAndGlyphs">164.758</text>
<rect x="1653" y="235" width="41" height="11" fill="#ff0000" shape-rendering="crispEdges"/>
<text x="1657" y="244.4" font-size="9.4" fill="#fff" textLength="33" lengthAdjust="spacingAndGlyphs">163.882</text>
<rect x="1653" y="272" width="41" height="11" fill="#32cd32" shape-rendering="crispEdges"/>
<text x="1657" y="281.4" font-size="9.4" fill="#fff" textLength="33" lengthAdjust="spacingAndGlyphs">162.928</text>
<rect x="1653" y="313" width="41" height="11" fill="#0000ff" shape-rendering="crispEdges"/>
<text x="1657" y="322.4" font-size="9.4" fill="#fff" textLength="33" lengthAdjust="spacingAndGlyphs">161.872</text>
<rect x="1653" y="347" width="41" height="11" fill="#0000ff" shape-rendering="crispEdges"/>
<text x="1657" y="356.4" font-size="9.4" fill="#fff" textLength="33" lengthAdjust="spacingAndGlyphs">160.996</text>
<polygon points="0,35 0,38 2.5,38" fill="#000"/>
<text x="7" y="38.7" font-size="9.3" fill="#000" textLength="200" lengthAdjust="spacing" xml:space="preserve">GBPJPY-,H4  162.969 163.014 162.718 162.848</text>
<text x="-2" y="590" font-size="9.3" fill="#000">MACD(12,26,9) -0.8270 -0.9688</text>
<text x="-4" y="766.6" font-size="9.3" fill="#000">RSI(14) 42.5769</text>
<g>
<line x1="1245.5" y1="148.0" x2="1339.4" y2="330.1" stroke="#ff0000" stroke-width="3.2"/>
<polygon points="1344.0,339.0 1333.6,330.9 1343.4,325.8" fill="#ff0000"/>
<line x1="1344.0" y1="338.0" x2="1394.6" y2="278.8" stroke="#ff0000" stroke-width="3.4"/>
<polygon points="1400.5,272.0 1397.5,283.9 1389.2,276.8" fill="#ff0000"/>
<line x1="1400.5" y1="272.0" x2="1430.6" y2="288.6" stroke="#ff0000" stroke-width="2.5"/>
<polygon points="1438.5,293.0 1426.5,292.1 1431.3,283.3" fill="#ff0000"/>
<line x1="1354.8" y1="732.7" x2="1397.5" y2="718.3" stroke="#ff0000" stroke-width="2.8"/>
<polygon points="1406.0,715.4 1397.2,723.7 1394.0,714.2" fill="#ff0000"/>
<line x1="1326.0" y1="874.4" x2="1402.2" y2="857.3" stroke="#ff0000" stroke-width="2.8"/>
<polygon points="1411.0,855.3 1401.3,862.4 1399.2,853.0" fill="#ff0000"/>
<rect x="1105.5" y="46.5" width="61" height="18" fill="#fff" stroke="#ff0000" stroke-width="1" shape-rendering="crispEdges"/>
<text x="1107.2" y="61.6" font-size="17" fill="#ff0000" textLength="57.5" lengthAdjust="spacingAndGlyphs">168.693</text>
<rect x="1167" y="55" width="10" height="1" fill="#ff0000" shape-rendering="crispEdges"/>
<rect x="169.5" y="554.5" width="61" height="18" fill="#fff" stroke="#ff0000" stroke-width="1" shape-rendering="crispEdges"/>
<text x="171.2" y="569.6" font-size="17" fill="#ff0000" textLength="57.5" lengthAdjust="spacingAndGlyphs">155.562</text>
<rect x="231" y="563" width="10" height="1" fill="#ff0000" shape-rendering="crispEdges"/>
<rect x="1273.5" y="332.5" width="61" height="18" fill="#fff" stroke="#ff0000" stroke-width="1" shape-rendering="crispEdges"/>
<text x="1275.2" y="348.1" font-size="17" fill="#ff0000" textLength="57.5" lengthAdjust="spacingAndGlyphs">161.305</text>
<rect x="1335" y="341" width="10" height="1" fill="#ff0000" shape-rendering="crispEdges"/>
<rect x="1195.5" y="266.5" width="73" height="24" fill="#fff" stroke="#ff0000" stroke-width="1" shape-rendering="crispEdges"/>
<text x="1197.0" y="286.7" font-size="22.2" fill="#ff0000" textLength="70" lengthAdjust="spacingAndGlyphs">162.928</text>
<rect x="1186" y="278" width="9" height="1" fill="#ff0000" shape-rendering="crispEdges"/>
</g>
</svg>
<div id="tb"><div class="sh1"></div><div class="sh2"></div></div>
<svg width="1698" height="25" viewBox="0 0 1698 25" style="position:absolute;left:0;top:0" font-family="Liberation Sans, sans-serif">
<path d="M-1 13L4 19" stroke="#c9982c" stroke-width="3"/>
<rect x="12" y="2" width="1" height="20" fill="#a5a5a5"/>
<path d="M22.7 3.5H29.5L33 7V16.5H22.7Z" fill="#fff" stroke="#777" stroke-width="1.1"/><path d="M25 7.5H29M25 9.5H28M25 11.5H27" stroke="#999" stroke-width="1"/>
<path d="M30 9.5H34V13H37.8V17H34V20.5H30V17H26.2V13H30Z" fill="#35d035" stroke="#0f9a0f" stroke-width="1.2"/>
<path transform="translate(41,4.2) scale(.95,.88)" d="M2.5 0L3 1M.5 2H5.5M1.5 3L2 4.5M4.5 3L4 4.5M0 5H6M.5 7.2H5.5M3 5V11.5M3 7.5L.5 10.5M3 7.5L5.5 10M10.8 .5L7.2 1.6V6.5L6.2 11.2M7.2 5H11.8M9.6 5V11.6" fill="none" stroke="#000" stroke-width="1.1" stroke-linecap="square"/><path transform="translate(53,4.2) scale(.95,.88)" d="M1 .8L2.2 2M0 4.2H2.2V10L3.8 8.6M4.8 1.6H11.8M8.3 1.6V11L6.8 10" fill="none" stroke="#000" stroke-width="1.1" stroke-linecap="square"/><path transform="translate(65,4.2) scale(.95,.88)" d="M3 0L4 1.6M8.8 0L7.8 1.6M2 2.6H10V7.4H2ZM2 5H10M6 2.6V11.8M0 9.5H12" fill="none" stroke="#000" stroke-width="1.1" stroke-linecap="square"/>
<polygon points="95,5 105,10.5 99.5,18.5 89,12.5" fill="#efc65c" stroke="#b8882a" stroke-width="1"/><path d="M89.5 13.5L99.5 19.5L105 11.5" fill="none" stroke="#9a6c1c" stroke-width="1.2"/>
<rect x="121.5" y="3.5" width="9" height="11" fill="#4c95e0" stroke="#2f6fbe"/><rect x="123" y="5" width="6" height="3" fill="#cfe4fa"/>
<path d="M119 18.5Q116.5 18 117.5 15.5Q118.5 13.5 121 14Q122.5 11.5 125.5 12.5Q127.5 11.5 129 13.5Q132.5 13.5 132.5 16.5Q132 18.5 130 18.5Z" fill="#e6edf7" stroke="#8ba3c6" stroke-width="1"/>
<circle cx="152.5" cy="11" r="7" fill="none" stroke="#9dbbe6" stroke-width="1.6"/><circle cx="152.5" cy="11" r="4" fill="none" stroke="#5f8fd8" stroke-width="1.5"/><circle cx="152.5" cy="11" r="1.6" fill="#2c6fd0"/><path d="M153 11V18.6A7.6 7.6 0 0 0 160.4 12.5Z" fill="#7cc47c" opacity=".75"/><path d="M153 11.5V18.8" fill="none" stroke="#2a9a2a" stroke-width="1.5"/>
<path d="M174 9L185 9L181 18H177Z" fill="#f3cf5a" stroke="#c79a2c" stroke-width=".8"/><ellipse cx="179" cy="8.5" rx="8" ry="2.8" fill="#5b95dd" stroke="#3a73c0" stroke-width=".8"/><path d="M175 8Q175.5 3.5 179 3.5Q182.5 3.5 183 8Z" fill="#6aa2e6" stroke="#3a73c0" stroke-width=".8"/>
<circle cx="184.5" cy="15" r="4" fill="#e02a1a" stroke="#a81408" stroke-width=".8"/><rect x="183" y="13.5" width="3" height="3" fill="#fff"/>
<path transform="translate(193,4.2) scale(.95,.88)" d="M6.2 0L5.2 1.8M2.5 2.2H9.5V11.5H2.5ZM2.5 5.3H9.5M2.5 8.4H9.5" fill="none" stroke="#000" stroke-width="1.1" stroke-linecap="square"/><path transform="translate(205,4.2) scale(.95,.88)" d="M1 2H5M0 5H6M3 5L1.2 9.4L5.4 8.9M4.6 7.4L5.8 9.8M6.6 3.6H11.2L10.6 11L9.2 10.4M8.7 .4V5L6.2 11.6" fill="none" stroke="#000" stroke-width="1.1" stroke-linecap="square"/><path transform="translate(217,4.2) scale(.95,.88)" d="M6 0V1.6M.5 2.8H11.5M3.8 4L1.6 6.6M8 4L10.6 6.6M8.6 5.6L5.2 9.6L.4 11.6M3.4 5.6L7 9.6L11.6 11.6" fill="none" stroke="#000" stroke-width="1.1" stroke-linecap="square"/><path transform="translate(229,4.2) scale(.95,.88)" d="M2.8 .5H9.4V5H2.8ZM2.8 2.8H9.4M3.2 5L1 8.2M2.2 6.8H10.6L10 11.2L8.6 10.6M5.6 6.8L3 11.2M8 6.8L5.4 11.6" fill="none" stroke="#000" stroke-width="1.1" stroke-linecap="square"/>
<rect x="248" y="0" width="1" height="23" fill="#a0a0a0"/><rect x="251" y="2" width="4" height="1" fill="#a8a8a8"/><rect x="251" y="4" width="4" height="1" fill="#a8a8a8"/><rect x="251" y="6" width="4" height="1" fill="#a8a8a8"/><rect x="251" y="8" width="4" height="1" fill="#a8a8a8"/><rect x="251" y="10" width="4" height="1" fill="#a8a8a8"/><rect x="251" y="12" width="4" height="1" fill="#a8a8a8"/><rect x="251" y="14" width="4" height="1" fill="#a8a8a8"/><rect x="251" y="16" width="4" height="1" fill="#a8a8a8"/><rect x="251" y="18" width="4" height="1" fill="#a8a8a8"/><rect x="251" y="20" width="4" height="1" fill="#a8a8a8"/>
<path d="M267.5 5V19.5M264 17.5H277.5M266 7L267.5 5L269 7M275.5 16L277.5 17.5L275.5 19" fill="none" stroke="#4a4a4a" stroke-width="1.15"/>
<path d="M272.5 7V15M272.5 8.5H275M270 14.5H272.5" fill="none" stroke="#1e9a1e" stroke-width="1.4"/>
<rect x="286" y="2" width="1" height="20" fill="#a5a5a5"/>
<rect x="287" y="1" width="23" height="21" fill="#f8f8f8"/>
<path d="M294.5 5V19.5M291 17.5H304.5M293 7L294.5 5L296 7M302.5 16L304.5 17.5L302.5 19" fill="none" stroke="#4a4a4a" stroke-width="1.15"/>
<path d="M300.5 3.5V15" stroke="#1e7a1e" stroke-width="1"/><rect x="298.5" y="5.5" width="4" height="7.5" fill="#2fc02f" stroke="#1e7a1e" stroke-width="1"/>
<path d="M323.5 5V19.5M320 17.5H333.5M322 7L323.5 5L325 7M331.5 16L333.5 17.5L331.5 19" fill="none" stroke="#4a4a4a" stroke-width="1.15"/>
<path d="M322 15Q326 7 329 8Q332 9 334 13" fill="none" stroke="#1e9a1e" stroke-width="1.3"/>
<rect x="342" y="2" width="1" height="20" fill="#a5a5a5"/>
<path d="M362 14L367 19" stroke="#c9a02c" stroke-width="2.6" stroke-linecap="round"/><circle cx="358" cy="9.5" r="5.5" fill="#e3eefb" stroke="#4a8ae0" stroke-width="1.6"/><path d="M355 9.5H361M358 6.5V12.5" stroke="#2e6fd0" stroke-width="1.6"/>
<path d="M390 14L395 19" stroke="#c9a02c" stroke-width="2.6" stroke-linecap="round"/><circle cx="386" cy="9.5" r="5.5" fill="#e3eefb" stroke="#4a8ae0" stroke-width="1.6"/><path d="M383 9.5H389" stroke="#2e6fd0" stroke-width="1.6"/>
<rect x="407" y="3" width="8.5" height="8.5" fill="#3aa82a"/><rect x="408.5" y="5.5" width="5.5" height="3.5" fill="none" stroke="#fff" stroke-width="1"/>
<rect x="416" y="3" width="8.5" height="8.5" fill="#2a55d8"/><rect x="417.5" y="5.5" width="5.5" height="3.5" fill="none" stroke="#fff" stroke-width="1"/>
<rect x="407" y="12" width="8.5" height="8.5" fill="#2a55d8"/><rect x="408.5" y="14.5" width="5.5" height="3.5" fill="none" stroke="#fff" stroke-width="1"/>
<rect x="416" y="12" width="8.5" height="8.5" fill="#3aa82a"/><rect x="417.5" y="14.5" width="5.5" height="3.5" fill="none" stroke="#fff" stroke-width="1"/>
<rect x="433" y="2" width="1" height="20" fill="#a5a5a5"/>
<rect x="439" y="1" width="24" height="21" fill="#f8f8f8"/>
<path d="M447.5 5V19.5M444 17.5H457.5M446 7L447.5 5L449 7M455.5 16L457.5 17.5L455.5 19" fill="none" stroke="#4a4a4a" stroke-width="1.15"/>
<polygon points="452,7 457,10.5 452,14" fill="#3ac03a" stroke="#1e8a1e" stroke-width=".8"/>
<rect x="466" y="2" width="1" height="20" fill="#a5a5a5"/>
<rect x="467" y="1" width="24" height="21" fill="#f8f8f8"/>
<path d="M475.5 5V19.5M472 17.5H485.5M474 7L475.5 5L477 7M483.5 16L485.5 17.5L483.5 19" fill="none" stroke="#4a4a4a" stroke-width="1.15"/>
<path d="M480.5 5V16" stroke="#2a6fc0" stroke-width="1.2"/><path d="M486 10.5H482M484 8.5L482 10.5L484 12.5" fill="none" stroke="#d03a1a" stroke-width="1.2"/>
<rect x="495" y="2" width="1" height="20" fill="#a5a5a5"/>
<path d="M505.5 3.5H511.5L514.5 6.5V16.5H505.5Z" fill="#fff" stroke="#777"/><path d="M510 6Q508 6 508 8V14M507 9.5H510" fill="none" stroke="#444" stroke-width="1"/>
<path d="M513 9.5H517V13H520.8V17H517V20.5H513V17H509.2V13H513Z" fill="#35d035" stroke="#0f9a0f" stroke-width="1.2"/>
<polygon points="526,10 532,10 529,13" fill="#000"/>
<circle cx="551" cy="11" r="7.2" fill="#f4f8fe" stroke="#1f6fdc" stroke-width="2.2"/><path d="M551 6.5V11.5H554.5" fill="none" stroke="#555" stroke-width="1.1"/>
<polygon points="565,10 571,10 568,13" fill="#000"/>
<rect x="582.5" y="4.5" width="15" height="13" fill="#fff" stroke="#3a7ad8" stroke-width="1.2"/><rect x="582" y="4" width="16" height="2.5" fill="#3a7ad8"/><path d="M584 10L587 9L590 10L593 8.5L596 9" fill="none" stroke="#b0301a" stroke-width="1.2"/><path d="M584 15L587 14L589.5 15.5L592 13.5L596 15" fill="none" stroke="#2a9a2a" stroke-width="1.2"/>
<polygon points="604,10 610,10 607,13" fill="#000"/>
<rect x="616" y="0" width="1" height="23" fill="#a0a0a0"/><rect x="619" y="2" width="4" height="1" fill="#a8a8a8"/><rect x="619" y="4" width="4" height="1" fill="#a8a8a8"/><rect x="619" y="6" width="4" height="1" fill="#a8a8a8"/><rect x="619" y="8" width="4" height="1" fill="#a8a8a8"/><rect x="619" y="10" width="4" height="1" fill="#a8a8a8"/><rect x="619" y="12" width="4" height="1" fill="#a8a8a8"/><rect x="619" y="14" width="4" height="1" fill="#a8a8a8"/><rect x="619" y="16" width="4" height="1" fill="#a8a8a8"/><rect x="619" y="18" width="4" height="1" fill="#a8a8a8"/><rect x="619" y="20" width="4" height="1" fill="#a8a8a8"/>
<rect x="626" y="1" width="25" height="21" fill="#f8f8f8"/><rect x="625" y="1" width="1" height="21" fill="#b8b8b8"/>
<polygon points="634,4 634,16 637,13.2 639.2,17.5 641,16.6 638.9,12.6 642.5,12.4" fill="#444"/>
<path d="M666.5 4V18M659 11.5H674" stroke="#555" stroke-width="1"/><rect x="665" y="10" width="3" height="3" fill="#f0f0f0"/><rect x="666" y="11" width="1" height="1" fill="#555"/>
<rect x="683" y="2" width="1" height="20" fill="#a5a5a5"/>
<path d="M700.5 5V17.5" stroke="#555" stroke-width="1.2"/><path d="M722.5 11.5H735" stroke="#555" stroke-width="1.2"/><path d="M750.5 18L762.5 6.5" stroke="#555" stroke-width="1.2"/>
<path d="M777 16L787 5M780 18L790 7M777 11L790 9M778 14L789 12" fill="none" stroke="#555" stroke-width="1"/><text x="787" y="19.5" font-size="7" font-weight="bold" fill="#333">E</text>
<path d="M805 4.5H819" stroke="#666" stroke-width="1" stroke-dasharray="1 1" shape-rendering="crispEdges"/>
<path d="M805 7.5H819" stroke="#666" stroke-width="1" stroke-dasharray="1 1" shape-rendering="crispEdges"/>
<path d="M805 10.5H819" stroke="#666" stroke-width="1" stroke-dasharray="1 1" shape-rendering="crispEdges"/>
<path d="M805 15.5H819" stroke="#666" stroke-width="1" stroke-dasharray="1 1" shape-rendering="crispEdges"/>
<text x="815.5" y="19.5" font-size="7" font-weight="bold" fill="#333">F</text>
<text x="835.5" y="16.5" font-size="14" fill="#555" stroke="#555" stroke-width=".35" textLength="9" lengthAdjust="spacingAndGlyphs">A</text>
<rect x="863" y="5" width="11" height="12.5" fill="none" stroke="#666" stroke-width="1" stroke-dasharray="1 1"/><text x="864.6" y="15.6" font-size="12" fill="#555" stroke="#555" stroke-width=".3">T</text>
<path d="M893.5 5L896.5 8H890.5ZM893.5 11L890.5 8" fill="#444"/><polygon points="893.5,4.5 897,8 893.5,9.5 890,8" fill="#444"/><polygon points="900.5,12.5 904,16 900.5,19 897,16" fill="#444"/><path d="M892 11L894 13.5L898 8.5" fill="none" stroke="#444" stroke-width="1.2"/>
<polygon points="911,10 917,10 914,13" fill="#000"/>
<rect x="922.5" y="0" width="1" height="23" fill="#a0a0a0"/><rect x="925.5" y="2" width="4" height="1" fill="#a8a8a8"/><rect x="925.5" y="4" width="4" height="1" fill="#a8a8a8"/><rect x="925.5" y="6" width="4" height="1" fill="#a8a8a8"/><rect x="925.5" y="8" width="4" height="1" fill="#a8a8a8"/><rect x="925.5" y="10" width="4" height="1" fill="#a8a8a8"/><rect x="925.5" y="12" width="4" height="1" fill="#a8a8a8"/><rect x="925.5" y="14" width="4" height="1" fill="#a8a8a8"/><rect x="925.5" y="16" width="4" height="1" fill="#a8a8a8"/><rect x="925.5" y="18" width="4" height="1" fill="#a8a8a8"/><rect x="925.5" y="20" width="4" height="1" fill="#a8a8a8"/>
<rect x="1073" y="1" width="24.5" height="21" fill="#f9f9f9"/><rect x="1072" y="1" width="1" height="21" fill="#b0b0b0"/>
<text x="937.5" y="15" font-size="9.3" fill="#444">M1</text>
<text x="965.5" y="15" font-size="9.3" fill="#444">M5</text>
<text x="991" y="15" font-size="9.3" fill="#444">M15</text>
<text x="1019.5" y="15" font-size="9.3" fill="#444">M30</text>
<text x="1050.8" y="15" font-size="9.3" fill="#444">H1</text>
<text x="1077.5" y="15" font-size="9.3" fill="#444">H4</text>
<text x="1106" y="15" font-size="9.3" fill="#444">D1</text>
<text x="1133.8" y="15" font-size="9.3" fill="#444">W1</text>
<text x="1160" y="15" font-size="9.3" fill="#444">MN</text>
<rect x="1183" y="2" width="1" height="20" fill="#a5a5a5"/>
<path d="M1650.5 11.5L1646 16" stroke="#2a5fd0" stroke-width="2.4" stroke-linecap="round"/><circle cx="1653.8" cy="8.3" r="3.8" fill="#f6f9fe" stroke="#2f66d8" stroke-width="1.4"/>
<path d="M1671 12Q1671 8.5 1676 8.5Q1681.5 8.5 1681.5 12.5Q1681.5 16.5 1676.5 16.5L1674 19L1674 16.2Q1671 15.5 1671 12Z" fill="#e4e6ee" stroke="#b4b6be" stroke-width=".8"/>
<defs><linearGradient id="rg" x1="0" y1="0" x2="0" y2="1"><stop offset="0" stop-color="#e9542e"/><stop offset="1" stop-color="#d8200e"/></linearGradient></defs>
<circle cx="1684.6" cy="8.2" r="8.1" fill="url(#rg)"/><text x="1680.6" y="13.3" font-size="14" fill="#fff">1</text>
</svg>
<div id="oc">
<div class="bt" style="left:0;width:46px"><span style="display:inline-block;transform:scaleX(.86);margin-left:-6px">SELL</span></div>
<div style="left:46px;top:0;width:116px;height:24px;background:#fff"></div>
<div style="left:49px;top:0px;width:111px;height:22px;border:1px solid #b4b4b4;background:#fff"></div>
<div style="left:50px;top:1px;width:21px;height:20px;background:linear-gradient(#f2f2f2,#d8d8d8);border-right:1px solid #c4c4c4"></div>
<div style="left:138px;top:1px;width:21px;height:20px;background:linear-gradient(#f2f2f2,#d8d8d8);border-left:1px solid #c4c4c4"></div>
<div style="left:57px;top:9px;width:0;height:0;border-left:3px solid transparent;border-right:3px solid transparent;border-top:3px solid #4a5a9a"></div>
<div style="left:146px;top:9px;width:0;height:0;border-left:3px solid transparent;border-right:3px solid transparent;border-bottom:3px solid #4a5a9a"></div>
<div style="left:100px;top:3px;width:35px;height:16px;font-size:12px;line-height:16px;text-align:right;color:#000"><span style="display:inline-block;transform:scaleX(.94);transform-origin:100% 50%">1.00</span></div>
<div class="bt" style="left:162px;width:52px"><span style="display:inline-block;transform:scaleX(.86);margin-left:-2px">BUY</span></div>
<div style="left:0;top:22px;width:46px;height:1px;background:#2020b8"></div><div style="left:45px;top:0;width:1px;height:24px;background:#2020b8"></div><div style="left:0;top:23px;width:43px;height:1px;background:#7474ee"></div>
<div style="left:162px;top:22px;width:52px;height:1px;background:#2020b8"></div><div style="left:166px;top:23px;width:44px;height:1px;background:#7474ee"></div>
<div class="pr" style="left:0;width:104px"><div class="sm" style="left:18.5px">162</div><div class="bg" style="left:42.5px">84</div><div class="su" style="left:82.5px">8</div></div>
<div class="pr" style="left:106px;width:108px"><div class="sm" style="left:22.5px">163</div><div class="bg" style="left:47.5px">14</div><div class="su" style="left:88px">8</div></div>
</div>
</body></html>
